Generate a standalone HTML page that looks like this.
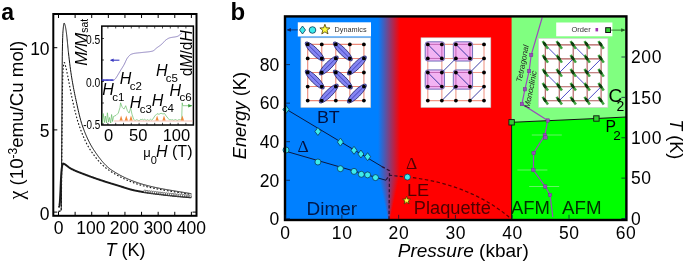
<!DOCTYPE html>
<html><head><meta charset="utf-8"><style>
html,body{margin:0;padding:0;background:#fff;}
svg{display:block;font-family:"Liberation Sans", sans-serif;will-change:transform;}
</style></head><body>
<svg width="685" height="263" viewBox="0 0 685 263">
<rect width="685" height="263" fill="#fff"/>
<defs><clipPath id="ca"><rect x="54.3" y="15" width="141.2" height="199.8"/></clipPath></defs>
<g clip-path="url(#ca)" fill="none">
<path d="M58.5,211.28 L58.58,211.28 L58.67,211.28 L58.75,211.27 L58.83,211.27 L58.92,211.27 L59,211.26 L59.09,211.26 L59.17,211.25 L59.25,211.24 L59.34,211.23 L59.42,211.22 L59.5,211.21 L59.59,211.19 L59.67,211.17 L59.76,211.16 L59.84,211.13 L59.92,211.11 L60.01,211.09 L60.09,211.06 L60.17,211.03 L60.26,211 L60.34,210.96 L60.43,210.92 L60.51,210.88 L60.59,210.84 L60.68,210.79 L60.76,210.74 L60.84,210.69 L60.93,210.63 L61.01,210.57 L61.1,210.51 L61.18,210.29 L61.26,207.21 L61.35,201.08 L61.43,192.92 L61.51,183.78 L61.6,173.93 L61.68,160.39 L61.77,144.54 L61.85,128.52 L61.93,113.52 L62.02,96.88 L62.1,80.24 L62.18,65.92 L62.27,56.22 L62.35,51.2 L62.44,46.93 L62.52,43.22 L62.6,40.03 L62.69,37.34 L62.77,35.11 L62.85,33.3 L62.94,31.88 L63.02,30.8 L63.11,29.8 L63.19,28.86 L63.27,27.97 L63.36,27.14 L63.44,26.37 L63.52,25.67 L63.61,25.04 L63.69,24.49 L63.78,24.02 L63.86,23.64 L63.94,23.34 L64.03,23.15 L64.11,23.05 L64.19,23.05 L64.28,23.11 L64.36,23.21 L64.45,23.36 L64.53,23.54 L64.61,23.76 L64.7,24 L64.78,24.27 L64.86,24.54 L64.95,24.83 L65.03,25.12 L65.12,25.41 L65.2,25.7 L65.28,26.03 L65.37,26.39 L65.45,26.77 L65.53,27.19 L65.62,27.63 L65.7,28.1 L65.79,28.59 L65.87,29.09 L65.95,29.61 L66.04,30.15 L66.12,30.69 L66.2,31.25 L66.29,31.82 L66.37,32.43 L66.46,33.07 L66.54,33.75 L66.62,34.45 L66.71,35.18 L66.79,35.93 L66.87,36.71 L66.96,37.51 L67.04,38.32 L67.13,39.16 L67.21,40 L67.29,40.86 L67.38,41.72 L67.46,42.6 L67.54,43.47 L67.63,44.36 L67.71,45.24 L67.8,46.12 L67.88,47 L67.96,47.87 L68.05,48.73 L68.13,49.58 L68.21,50.42 L68.3,51.25 L68.38,52.06 L68.47,52.85 L68.88,56.45 L69.29,59.91 L69.7,63.29 L70.11,66.55 L70.52,69.67 L70.93,72.61 L71.34,75.34 L71.75,77.91 L72.17,80.39 L72.58,82.78 L72.99,85.08 L73.4,87.31 L73.81,89.47 L74.22,91.57 L74.63,93.61 L75.04,95.61 L75.45,97.56 L75.87,99.49 L76.28,101.39 L76.69,103.29 L77.1,105.18 L77.51,107.04 L77.92,108.89 L78.33,110.71 L78.74,112.49 L79.15,114.23 L79.57,115.91 L79.98,117.55 L80.39,119.12 L80.8,120.63 L81.21,122.06 L81.62,123.41 L82.03,124.68 L82.44,125.87 L82.85,127.03 L83.27,128.16 L83.68,129.27 L84.09,130.35 L84.5,131.41 L84.91,132.45 L85.32,133.46 L85.73,134.46 L86.14,135.42 L86.55,136.37 L86.96,137.3 L87.38,138.2 L87.79,139.09 L88.2,139.95 L88.61,140.8 L89.02,141.62 L89.43,142.43 L89.84,143.22 L90.25,143.99 L90.66,144.74 L91.08,145.48 L91.49,146.19 L91.9,146.9 L92.31,147.58 L92.72,148.25 L93.13,148.9 L93.54,149.54 L93.95,150.17 L94.36,150.79 L94.78,151.4 L95.19,152 L95.6,152.6 L96.01,153.2 L96.42,153.79 L96.83,154.37 L97.24,154.94 L97.65,155.51 L98.06,156.07 L98.48,156.63 L98.89,157.18 L99.3,157.72 L99.71,158.25 L100.12,158.78 L100.53,159.3 L100.94,159.81 L101.35,160.31 L101.76,160.81 L102.17,161.3 L102.59,161.78 L103,162.25 L103.41,162.72 L103.82,163.17 L104.23,163.62 L104.64,164.06 L105.05,164.49 L105.46,164.91 L105.87,165.33 L106.29,165.73 L106.7,166.12 L107.11,166.51 L107.52,166.89 L107.93,167.25 L108.34,167.61 L108.75,167.96 L109.16,168.3 L109.57,168.62 L109.99,168.94 L110.4,169.25 L110.81,169.55 L111.22,169.83 L111.63,170.11 L112.04,170.38 L112.45,170.65 L112.86,170.92 L113.27,171.18 L113.69,171.44 L114.1,171.7 L114.51,171.96 L114.92,172.21 L115.33,172.46 L115.74,172.71 L116.15,172.96 L116.56,173.2 L116.97,173.44 L117.38,173.68 L117.8,173.92 L118.21,174.15 L118.62,174.38 L119.03,174.61 L119.44,174.83 L119.85,175.06 L120.26,175.28 L120.67,175.5 L121.08,175.71 L121.5,175.93 L121.91,176.14 L122.32,176.35 L122.73,176.56 L123.14,176.76 L123.55,176.96 L123.96,177.17 L124.37,177.36 L124.78,177.56 L125.2,177.75 L125.61,177.95 L126.02,178.14 L126.43,178.32 L126.84,178.51 L127.25,178.69 L127.66,178.87 L128.07,179.05 L128.48,179.23 L128.9,179.41 L129.31,179.58 L129.72,179.75 L130.13,179.92 L130.54,180.09 L130.95,180.25 L131.36,180.42 L131.77,180.58 L132.18,180.74 L132.6,180.9 L133.01,181.06 L133.42,181.21 L133.83,181.36 L134.24,181.51 L134.65,181.66 L135.06,181.81 L135.47,181.96 L135.88,182.1 L136.29,182.25 L136.71,182.39 L137.12,182.53 L137.53,182.66 L137.94,182.8 L138.35,182.94 L138.76,183.07 L139.17,183.2 L139.58,183.33 L139.99,183.46 L140.41,183.59 L140.82,183.71 L141.23,183.84 L141.64,183.96 L142.05,184.08 L142.46,184.2 L142.87,184.32 L143.28,184.44 L143.69,184.56 L144.11,184.67 L144.52,184.79 L144.93,184.9 L145.34,185.01 L145.75,185.12 L146.16,185.23 L146.57,185.34 L146.98,185.45 L147.39,185.55 L147.81,185.66 L148.22,185.76 L148.63,185.86 L149.04,185.97 L149.45,186.07 L149.86,186.17 L150.27,186.27 L150.68,186.36 L151.09,186.46 L151.5,186.56 L151.92,186.65 L152.33,186.75 L152.74,186.84 L153.15,186.94 L153.56,187.03 L153.97,187.12 L154.38,187.21 L154.79,187.3 L155.2,187.39 L155.62,187.48 L156.03,187.56 L156.44,187.65 L156.85,187.74 L157.26,187.82 L157.67,187.91 L158.08,187.99 L158.49,188.07 L158.9,188.16 L159.32,188.24 L159.73,188.32 L160.14,188.4 L160.55,188.48 L160.96,188.56 L161.37,188.64 L161.78,188.72 L162.19,188.79 L162.6,188.87 L163.02,188.95 L163.43,189.02 L163.84,189.1 L164.25,189.17 L164.66,189.25 L165.07,189.32 L165.48,189.4 L165.89,189.47 L166.3,189.54 L166.71,189.61 L167.13,189.69 L167.54,189.76 L167.95,189.83 L168.36,189.9 L168.77,189.97 L169.18,190.04 L169.59,190.11 L170,190.18 L170.41,190.25 L170.83,190.32 L171.24,190.39 L171.65,190.45 L172.06,190.52 L172.47,190.59 L172.88,190.66 L173.29,190.73 L173.7,190.79 L174.11,190.86 L174.53,190.93 L174.94,190.99 L175.35,191.06 L175.76,191.13 L176.17,191.19 L176.58,191.26 L176.99,191.33 L177.4,191.39 L177.81,191.46 L178.23,191.53 L178.64,191.59 L179.05,191.66 L179.46,191.72 L179.87,191.79 L180.28,191.86 L180.69,191.92 L181.1,191.99 L181.51,192.05 L181.93,192.12 L182.34,192.19 L182.75,192.25 L183.16,192.32 L183.57,192.39 L183.98,192.45 L184.39,192.52 L184.8,192.59 L185.21,192.66 L185.62,192.72 L186.04,192.79 L186.45,192.86 L186.86,192.93 L187.27,192.99 L187.68,193.06 L188.09,193.13 L188.5,193.2 L188.91,193.27 L189.32,193.34 L189.74,193.41 L190.15,193.48 L190.56,193.55 L190.97,193.62 L191.38,193.69" stroke="#111" stroke-width="1"/>
<path d="M58.5,211.28 L58.58,211.28 L58.67,211.28 L58.75,211.27 L58.83,211.27 L58.92,211.27 L59,211.26 L59.09,211.26 L59.17,211.25 L59.25,211.24 L59.34,211.23 L59.42,211.22 L59.5,211.21 L59.59,211.19 L59.67,211.17 L59.76,211.16 L59.84,211.13 L59.92,211.11 L60.01,211.09 L60.09,211.06 L60.17,211.03 L60.26,210.99 L60.34,210.96 L60.43,210.92 L60.51,210.88 L60.59,210.84 L60.68,210.79 L60.76,210.74 L60.84,210.69 L60.93,210.63 L61.01,210.57 L61.1,210.5 L61.18,210.32 L61.26,207.97 L61.35,203.34 L61.43,197.29 L61.51,190.66 L61.6,183.87 L61.68,175.21 L61.77,165.15 L61.85,154.53 L61.93,144.23 L62.02,134.94 L62.1,125.33 L62.18,115.48 L62.27,106.1 L62.35,97.86 L62.44,91.46 L62.52,87.38 L62.6,84.05 L62.69,81 L62.77,78.25 L62.85,75.78 L62.94,73.61 L63.02,71.73 L63.11,70.14 L63.19,68.84 L63.27,67.83 L63.36,67.09 L63.44,66.41 L63.52,65.77 L63.61,65.17 L63.69,64.62 L63.78,64.12 L63.86,63.68 L63.94,63.3 L64.03,62.99 L64.11,62.75 L64.19,62.58 L64.28,62.5 L64.36,62.51 L64.45,62.57 L64.53,62.68 L64.61,62.84 L64.7,63.04 L64.78,63.28 L64.86,63.54 L64.95,63.83 L65.03,64.13 L65.12,64.45 L65.2,64.77 L65.28,65.09 L65.37,65.4 L65.45,65.7 L65.53,65.99 L65.62,66.29 L65.7,66.6 L65.79,66.93 L65.87,67.27 L65.95,67.62 L66.04,67.98 L66.12,68.34 L66.2,68.72 L66.29,69.1 L66.37,69.49 L66.46,69.89 L66.54,70.29 L66.62,70.69 L66.71,71.1 L66.79,71.51 L66.87,71.92 L66.96,72.33 L67.04,72.75 L67.13,73.16 L67.21,73.57 L67.29,73.98 L67.38,74.39 L67.46,74.79 L67.54,75.19 L67.63,75.59 L67.71,76 L67.8,76.41 L67.88,76.82 L67.96,77.24 L68.05,77.66 L68.13,78.08 L68.21,78.5 L68.3,78.93 L68.38,79.36 L68.47,79.79 L68.88,81.94 L69.29,84.11 L69.7,86.31 L70.11,88.5 L70.52,90.68 L70.93,92.82 L71.34,94.91 L71.75,96.93 L72.17,98.86 L72.58,100.69 L72.99,102.48 L73.4,104.27 L73.81,106.03 L74.22,107.77 L74.63,109.49 L75.04,111.17 L75.45,112.82 L75.87,114.44 L76.28,116.01 L76.69,117.55 L77.1,119.03 L77.51,120.46 L77.92,121.83 L78.33,123.14 L78.74,124.39 L79.15,125.58 L79.57,126.74 L79.98,127.88 L80.39,129 L80.8,130.1 L81.21,131.18 L81.62,132.25 L82.03,133.29 L82.44,134.32 L82.85,135.32 L83.27,136.31 L83.68,137.27 L84.09,138.22 L84.5,139.14 L84.91,140.04 L85.32,140.93 L85.73,141.79 L86.14,142.64 L86.55,143.46 L86.96,144.26 L87.38,145.04 L87.79,145.8 L88.2,146.54 L88.61,147.25 L89.02,147.95 L89.43,148.62 L89.84,149.27 L90.25,149.9 L90.66,150.51 L91.08,151.12 L91.49,151.72 L91.9,152.31 L92.31,152.89 L92.72,153.47 L93.13,154.04 L93.54,154.6 L93.95,155.16 L94.36,155.7 L94.78,156.24 L95.19,156.77 L95.6,157.3 L96.01,157.82 L96.42,158.33 L96.83,158.83 L97.24,159.32 L97.65,159.81 L98.06,160.29 L98.48,160.76 L98.89,161.23 L99.3,161.69 L99.71,162.14 L100.12,162.58 L100.53,163.01 L100.94,163.44 L101.35,163.86 L101.76,164.27 L102.17,164.67 L102.59,165.07 L103,165.46 L103.41,165.84 L103.82,166.21 L104.23,166.58 L104.64,166.93 L105.05,167.28 L105.46,167.62 L105.87,167.96 L106.29,168.28 L106.7,168.6 L107.11,168.91 L107.52,169.21 L107.93,169.51 L108.34,169.8 L108.75,170.07 L109.16,170.35 L109.57,170.62 L109.99,170.89 L110.4,171.16 L110.81,171.42 L111.22,171.69 L111.63,171.95 L112.04,172.21 L112.45,172.46 L112.86,172.72 L113.27,172.97 L113.69,173.22 L114.1,173.47 L114.51,173.71 L114.92,173.95 L115.33,174.19 L115.74,174.43 L116.15,174.67 L116.56,174.9 L116.97,175.13 L117.38,175.36 L117.8,175.59 L118.21,175.82 L118.62,176.04 L119.03,176.26 L119.44,176.48 L119.85,176.7 L120.26,176.91 L120.67,177.12 L121.08,177.33 L121.5,177.54 L121.91,177.75 L122.32,177.95 L122.73,178.15 L123.14,178.35 L123.55,178.55 L123.96,178.75 L124.37,178.94 L124.78,179.13 L125.2,179.32 L125.61,179.51 L126.02,179.7 L126.43,179.88 L126.84,180.06 L127.25,180.24 L127.66,180.42 L128.07,180.6 L128.48,180.77 L128.9,180.94 L129.31,181.11 L129.72,181.28 L130.13,181.45 L130.54,181.61 L130.95,181.78 L131.36,181.94 L131.77,182.1 L132.18,182.25 L132.6,182.41 L133.01,182.56 L133.42,182.71 L133.83,182.86 L134.24,183.01 L134.65,183.16 L135.06,183.3 L135.47,183.44 L135.88,183.58 L136.29,183.72 L136.71,183.86 L137.12,183.99 L137.53,184.13 L137.94,184.26 L138.35,184.39 L138.76,184.52 L139.17,184.64 L139.58,184.77 L139.99,184.89 L140.41,185.01 L140.82,185.13 L141.23,185.25 L141.64,185.37 L142.05,185.48 L142.46,185.59 L142.87,185.71 L143.28,185.82 L143.69,185.92 L144.11,186.03 L144.52,186.14 L144.93,186.24 L145.34,186.35 L145.75,186.45 L146.16,186.55 L146.57,186.65 L146.98,186.75 L147.39,186.85 L147.81,186.95 L148.22,187.04 L148.63,187.14 L149.04,187.24 L149.45,187.33 L149.86,187.42 L150.27,187.52 L150.68,187.61 L151.09,187.7 L151.5,187.79 L151.92,187.88 L152.33,187.96 L152.74,188.05 L153.15,188.14 L153.56,188.22 L153.97,188.31 L154.38,188.39 L154.79,188.47 L155.2,188.56 L155.62,188.64 L156.03,188.72 L156.44,188.8 L156.85,188.88 L157.26,188.96 L157.67,189.04 L158.08,189.11 L158.49,189.19 L158.9,189.27 L159.32,189.34 L159.73,189.42 L160.14,189.49 L160.55,189.57 L160.96,189.64 L161.37,189.71 L161.78,189.79 L162.19,189.86 L162.6,189.93 L163.02,190 L163.43,190.07 L163.84,190.14 L164.25,190.21 L164.66,190.28 L165.07,190.35 L165.48,190.42 L165.89,190.48 L166.3,190.55 L166.71,190.62 L167.13,190.69 L167.54,190.75 L167.95,190.82 L168.36,190.88 L168.77,190.95 L169.18,191.02 L169.59,191.08 L170,191.15 L170.41,191.21 L170.83,191.27 L171.24,191.34 L171.65,191.4 L172.06,191.47 L172.47,191.53 L172.88,191.59 L173.29,191.66 L173.7,191.72 L174.11,191.78 L174.53,191.85 L174.94,191.91 L175.35,191.97 L175.76,192.03 L176.17,192.1 L176.58,192.16 L176.99,192.22 L177.4,192.29 L177.81,192.35 L178.23,192.41 L178.64,192.47 L179.05,192.54 L179.46,192.6 L179.87,192.66 L180.28,192.73 L180.69,192.79 L181.1,192.85 L181.51,192.92 L181.93,192.98 L182.34,193.04 L182.75,193.11 L183.16,193.17 L183.57,193.24 L183.98,193.3 L184.39,193.37 L184.8,193.43 L185.21,193.5 L185.62,193.56 L186.04,193.63 L186.45,193.69 L186.86,193.76 L187.27,193.83 L187.68,193.89 L188.09,193.96 L188.5,194.03 L188.91,194.1 L189.32,194.17 L189.74,194.24 L190.15,194.3 L190.56,194.37 L190.97,194.44 L191.38,194.51" stroke="#111" stroke-width="1.1" stroke-dasharray="1.6,1.9"/>
<path d="M58.5,207.17 L58.58,207.15 L58.67,207.12 L58.75,207.05 L58.83,206.96 L58.92,206.85 L59,206.72 L59.09,206.57 L59.17,206.39 L59.25,206.2 L59.34,205.98 L59.42,205.75 L59.5,205.5 L59.59,205.06 L59.67,204.37 L59.76,203.45 L59.84,202.36 L59.92,201.14 L60.01,199.82 L60.09,198.45 L60.17,197.07 L60.26,195.45 L60.34,193.53 L60.43,191.45 L60.51,189.33 L60.59,187.27 L60.68,185.41 L60.76,183.62 L60.84,181.84 L60.93,180.11 L61.01,178.47 L61.1,176.95 L61.18,175.58 L61.26,174.28 L61.35,173.03 L61.43,171.86 L61.51,170.81 L61.6,169.89 L61.68,169.13 L61.77,168.44 L61.85,167.8 L61.93,167.2 L62.02,166.66 L62.1,166.18 L62.18,165.76 L62.27,165.42 L62.35,165.15 L62.44,164.9 L62.52,164.65 L62.6,164.43 L62.69,164.22 L62.77,164.03 L62.85,163.87 L62.94,163.75 L63.02,163.66 L63.11,163.61 L63.19,163.6 L63.27,163.61 L63.36,163.62 L63.44,163.64 L63.52,163.66 L63.61,163.69 L63.69,163.72 L63.78,163.75 L63.86,163.79 L63.94,163.83 L64.03,163.87 L64.11,163.91 L64.19,163.95 L64.28,164 L64.36,164.04 L64.45,164.08 L64.53,164.12 L64.61,164.16 L64.7,164.21 L64.78,164.26 L64.86,164.31 L64.95,164.36 L65.03,164.41 L65.12,164.47 L65.2,164.52 L65.28,164.58 L65.37,164.64 L65.45,164.71 L65.53,164.77 L65.62,164.83 L65.7,164.9 L65.79,164.96 L65.87,165.03 L65.95,165.09 L66.04,165.16 L66.12,165.22 L66.2,165.29 L66.29,165.35 L66.37,165.42 L66.46,165.48 L66.54,165.55 L66.62,165.61 L66.71,165.67 L66.79,165.73 L66.87,165.79 L66.96,165.85 L67.04,165.91 L67.13,165.97 L67.21,166.03 L67.29,166.09 L67.38,166.15 L67.46,166.21 L67.54,166.28 L67.63,166.34 L67.71,166.4 L67.8,166.46 L67.88,166.53 L67.96,166.59 L68.05,166.65 L68.13,166.71 L68.21,166.78 L68.3,166.84 L68.38,166.9 L68.47,166.97 L68.88,167.27 L69.29,167.57 L69.7,167.85 L70.11,168.13 L70.52,168.38 L70.93,168.61 L71.34,168.83 L71.75,169.05 L72.17,169.27 L72.58,169.47 L72.99,169.68 L73.4,169.88 L73.81,170.08 L74.22,170.27 L74.63,170.46 L75.04,170.64 L75.45,170.82 L75.87,171 L76.28,171.18 L76.69,171.35 L77.1,171.52 L77.51,171.69 L77.92,171.85 L78.33,172.02 L78.74,172.18 L79.15,172.34 L79.57,172.5 L79.98,172.66 L80.39,172.81 L80.8,172.97 L81.21,173.12 L81.62,173.28 L82.03,173.43 L82.44,173.59 L82.85,173.74 L83.27,173.89 L83.68,174.05 L84.09,174.2 L84.5,174.36 L84.91,174.51 L85.32,174.67 L85.73,174.83 L86.14,174.99 L86.55,175.14 L86.96,175.3 L87.38,175.46 L87.79,175.61 L88.2,175.77 L88.61,175.92 L89.02,176.07 L89.43,176.22 L89.84,176.37 L90.25,176.53 L90.66,176.68 L91.08,176.82 L91.49,176.97 L91.9,177.12 L92.31,177.27 L92.72,177.41 L93.13,177.56 L93.54,177.71 L93.95,177.85 L94.36,177.99 L94.78,178.14 L95.19,178.28 L95.6,178.42 L96.01,178.57 L96.42,178.71 L96.83,178.85 L97.24,178.99 L97.65,179.13 L98.06,179.27 L98.48,179.41 L98.89,179.55 L99.3,179.69 L99.71,179.82 L100.12,179.96 L100.53,180.1 L100.94,180.24 L101.35,180.37 L101.76,180.51 L102.17,180.65 L102.59,180.78 L103,180.91 L103.41,181.05 L103.82,181.18 L104.23,181.32 L104.64,181.45 L105.05,181.58 L105.46,181.71 L105.87,181.84 L106.29,181.97 L106.7,182.11 L107.11,182.24 L107.52,182.37 L107.93,182.49 L108.34,182.62 L108.75,182.75 L109.16,182.88 L109.57,183.01 L109.99,183.14 L110.4,183.26 L110.81,183.39 L111.22,183.52 L111.63,183.64 L112.04,183.77 L112.45,183.9 L112.86,184.02 L113.27,184.15 L113.69,184.27 L114.1,184.4 L114.51,184.52 L114.92,184.65 L115.33,184.77 L115.74,184.9 L116.15,185.02 L116.56,185.15 L116.97,185.27 L117.38,185.39 L117.8,185.52 L118.21,185.64 L118.62,185.77 L119.03,185.89 L119.44,186.02 L119.85,186.15 L120.26,186.28 L120.67,186.41 L121.08,186.54 L121.5,186.67 L121.91,186.8 L122.32,186.93 L122.73,187.06 L123.14,187.19 L123.55,187.32 L123.96,187.45 L124.37,187.58 L124.78,187.71 L125.2,187.84 L125.61,187.97 L126.02,188.1 L126.43,188.23 L126.84,188.36 L127.25,188.48 L127.66,188.61 L128.07,188.73 L128.48,188.85 L128.9,188.97 L129.31,189.09 L129.72,189.21 L130.13,189.33 L130.54,189.44 L130.95,189.55 L131.36,189.66 L131.77,189.77 L132.18,189.88 L132.6,189.98 L133.01,190.08 L133.42,190.18 L133.83,190.28 L134.24,190.38 L134.65,190.47 L135.06,190.56 L135.47,190.64 L135.88,190.72 L136.29,190.8 L136.71,190.88 L137.12,190.96 L137.53,191.04 L137.94,191.12 L138.35,191.19 L138.76,191.27 L139.17,191.34 L139.58,191.41 L139.99,191.48 L140.41,191.56 L140.82,191.63 L141.23,191.69 L141.64,191.76 L142.05,191.83 L142.46,191.9 L142.87,191.96 L143.28,192.03 L143.69,192.09 L144.11,192.15 L144.52,192.22 L144.93,192.28 L145.34,192.34 L145.75,192.4 L146.16,192.46 L146.57,192.52 L146.98,192.58 L147.39,192.64 L147.81,192.7 L148.22,192.75 L148.63,192.81 L149.04,192.86 L149.45,192.92 L149.86,192.98 L150.27,193.03 L150.68,193.08 L151.09,193.14 L151.5,193.19 L151.92,193.24 L152.33,193.3 L152.74,193.35 L153.15,193.4 L153.56,193.45 L153.97,193.5 L154.38,193.56 L154.79,193.61 L155.2,193.66 L155.62,193.71 L156.03,193.76 L156.44,193.81 L156.85,193.86 L157.26,193.91 L157.67,193.96 L158.08,194.01 L158.49,194.06 L158.9,194.11 L159.32,194.15 L159.73,194.2 L160.14,194.25 L160.55,194.3 L160.96,194.35 L161.37,194.4 L161.78,194.45 L162.19,194.49 L162.6,194.54 L163.02,194.59 L163.43,194.64 L163.84,194.69 L164.25,194.73 L164.66,194.78 L165.07,194.83 L165.48,194.87 L165.89,194.92 L166.3,194.97 L166.71,195.01 L167.13,195.06 L167.54,195.1 L167.95,195.15 L168.36,195.2 L168.77,195.24 L169.18,195.29 L169.59,195.33 L170,195.37 L170.41,195.42 L170.83,195.46 L171.24,195.51 L171.65,195.55 L172.06,195.59 L172.47,195.64 L172.88,195.68 L173.29,195.72 L173.7,195.77 L174.11,195.81 L174.53,195.85 L174.94,195.89 L175.35,195.93 L175.76,195.97 L176.17,196.01 L176.58,196.06 L176.99,196.1 L177.4,196.14 L177.81,196.18 L178.23,196.21 L178.64,196.25 L179.05,196.29 L179.46,196.33 L179.87,196.37 L180.28,196.41 L180.69,196.45 L181.1,196.48 L181.51,196.52 L181.93,196.56 L182.34,196.59 L182.75,196.63 L183.16,196.67 L183.57,196.7 L183.98,196.74 L184.39,196.77 L184.8,196.81 L185.21,196.84 L185.62,196.88 L186.04,196.91 L186.45,196.94 L186.86,196.98 L187.27,197.01 L187.68,197.04 L188.09,197.07 L188.5,197.1 L188.91,197.14 L189.32,197.17 L189.74,197.2 L190.15,197.23 L190.56,197.26 L190.97,197.29 L191.38,197.32" stroke="#2a2a2a" stroke-width="2.0"/>
<circle cx="144.87" cy="191.28" r="1.25" stroke="#333" stroke-width="0.6" fill="#fff"/>
<circle cx="147.03" cy="191.6" r="1.25" stroke="#333" stroke-width="0.6" fill="#fff"/>
<circle cx="149.19" cy="191.9" r="1.25" stroke="#333" stroke-width="0.6" fill="#fff"/>
<circle cx="151.35" cy="192.18" r="1.25" stroke="#333" stroke-width="0.6" fill="#fff"/>
<circle cx="153.51" cy="192.46" r="1.25" stroke="#333" stroke-width="0.6" fill="#fff"/>
<circle cx="155.67" cy="192.73" r="1.25" stroke="#333" stroke-width="0.6" fill="#fff"/>
<circle cx="157.83" cy="192.99" r="1.25" stroke="#333" stroke-width="0.6" fill="#fff"/>
<circle cx="159.99" cy="193.25" r="1.25" stroke="#333" stroke-width="0.6" fill="#fff"/>
<circle cx="162.15" cy="193.5" r="1.25" stroke="#333" stroke-width="0.6" fill="#fff"/>
<circle cx="164.31" cy="193.75" r="1.25" stroke="#333" stroke-width="0.6" fill="#fff"/>
<circle cx="166.47" cy="194" r="1.25" stroke="#333" stroke-width="0.6" fill="#fff"/>
<circle cx="168.62" cy="194.24" r="1.25" stroke="#333" stroke-width="0.6" fill="#fff"/>
<circle cx="170.78" cy="194.47" r="1.25" stroke="#333" stroke-width="0.6" fill="#fff"/>
<circle cx="172.94" cy="194.7" r="1.25" stroke="#333" stroke-width="0.6" fill="#fff"/>
<circle cx="175.1" cy="194.92" r="1.25" stroke="#333" stroke-width="0.6" fill="#fff"/>
<circle cx="177.26" cy="195.14" r="1.25" stroke="#333" stroke-width="0.6" fill="#fff"/>
<circle cx="179.42" cy="195.34" r="1.25" stroke="#333" stroke-width="0.6" fill="#fff"/>
<circle cx="181.58" cy="195.54" r="1.25" stroke="#333" stroke-width="0.6" fill="#fff"/>
<circle cx="183.74" cy="195.73" r="1.25" stroke="#333" stroke-width="0.6" fill="#fff"/>
<circle cx="185.9" cy="195.91" r="1.25" stroke="#333" stroke-width="0.6" fill="#fff"/>
<circle cx="188.06" cy="196.08" r="1.25" stroke="#333" stroke-width="0.6" fill="#fff"/>
<circle cx="190.22" cy="196.25" r="1.25" stroke="#333" stroke-width="0.6" fill="#fff"/>
<path d="M58.5,207.17 L58.58,207.15 L58.67,207.12 L58.75,207.05 L58.83,206.96 L58.92,206.85 L59,206.72 L59.09,206.57 L59.17,206.39 L59.25,206.2 L59.34,205.98 L59.42,205.75 L59.5,205.5 L59.59,205.06 L59.67,204.37 L59.76,203.45 L59.84,202.36 L59.92,201.14 L60.01,199.82 L60.09,198.45 L60.17,197.07 L60.26,195.45 L60.34,193.53 L60.43,191.45 L60.51,189.33 L60.59,187.27 L60.68,185.41 L60.76,183.62 L60.84,181.84 L60.93,180.11 L61.01,178.47 L61.1,176.95 L61.18,175.58 L61.26,174.28 L61.35,173.03 L61.43,171.86 L61.51,170.81 L61.6,169.89 L61.68,169.13 L61.77,168.44 L61.85,167.8 L61.93,167.2 L62.02,166.66 L62.1,166.18 L62.18,165.76 L62.27,165.42 L62.35,165.15 L62.44,164.9 L62.52,164.65 L62.6,164.43 L62.69,164.22 L62.77,164.03 L62.85,163.87 L62.94,163.75 L63.02,163.66 L63.11,163.61 L63.19,163.6 L63.27,163.61 L63.36,163.62 L63.44,163.64 L63.52,163.66 L63.61,163.69 L63.69,163.72 L63.78,163.75 L63.86,163.79 L63.94,163.83 L64.03,163.87 L64.11,163.91 L64.19,163.95 L64.28,164 L64.36,164.04 L64.45,164.08 L64.53,164.12 L64.61,164.16 L64.7,164.21 L64.78,164.26 L64.86,164.31 L64.95,164.36 L65.03,164.41 L65.12,164.47 L65.2,164.52 L65.28,164.58 L65.37,164.64 L65.45,164.71 L65.53,164.77 L65.62,164.83 L65.7,164.9 L65.79,164.96 L65.87,165.03 L65.95,165.09 L66.04,165.16 L66.12,165.22 L66.2,165.29 L66.29,165.35 L66.37,165.42 L66.46,165.48 L66.54,165.55 L66.62,165.61 L66.71,165.67 L66.79,165.73 L66.87,165.79 L66.96,165.85 L67.04,165.91 L67.13,165.97 L67.21,166.03 L67.29,166.09 L67.38,166.15 L67.46,166.21 L67.54,166.28 L67.63,166.34 L67.71,166.4 L67.8,166.46 L67.88,166.53 L67.96,166.59 L68.05,166.65 L68.13,166.71 L68.21,166.78 L68.3,166.84 L68.38,166.9 L68.47,166.97 L68.88,167.27 L69.29,167.57 L69.7,167.85 L70.11,168.13 L70.52,168.38 L70.93,168.61 L71.34,168.83 L71.75,169.05 L72.17,169.27 L72.58,169.47 L72.99,169.68 L73.4,169.88 L73.81,170.08 L74.22,170.27 L74.63,170.46 L75.04,170.64 L75.45,170.82 L75.87,171 L76.28,171.18 L76.69,171.35 L77.1,171.52 L77.51,171.69 L77.92,171.85 L78.33,172.02 L78.74,172.18 L79.15,172.34 L79.57,172.5 L79.98,172.66 L80.39,172.81 L80.8,172.97 L81.21,173.12 L81.62,173.28 L82.03,173.43 L82.44,173.59 L82.85,173.74 L83.27,173.89 L83.68,174.05 L84.09,174.2 L84.5,174.36 L84.91,174.51 L85.32,174.67 L85.73,174.83 L86.14,174.99 L86.55,175.14 L86.96,175.3 L87.38,175.46 L87.79,175.61 L88.2,175.77 L88.61,175.92 L89.02,176.07 L89.43,176.22 L89.84,176.37 L90.25,176.53 L90.66,176.68 L91.08,176.82 L91.49,176.97 L91.9,177.12 L92.31,177.27 L92.72,177.41 L93.13,177.56 L93.54,177.71 L93.95,177.85 L94.36,177.99 L94.78,178.14 L95.19,178.28 L95.6,178.42 L96.01,178.57 L96.42,178.71 L96.83,178.85 L97.24,178.99 L97.65,179.13 L98.06,179.27 L98.48,179.41 L98.89,179.55 L99.3,179.69 L99.71,179.82 L100.12,179.96 L100.53,180.1 L100.94,180.24 L101.35,180.37 L101.76,180.51 L102.17,180.65 L102.59,180.78 L103,180.91 L103.41,181.05 L103.82,181.18 L104.23,181.32 L104.64,181.45 L105.05,181.58 L105.46,181.71 L105.87,181.84 L106.29,181.97 L106.7,182.11 L107.11,182.24 L107.52,182.37 L107.93,182.49 L108.34,182.62 L108.75,182.75 L109.16,182.88 L109.57,183.01 L109.99,183.14 L110.4,183.26 L110.81,183.39 L111.22,183.52 L111.63,183.64 L112.04,183.77 L112.45,183.9 L112.86,184.02 L113.27,184.15 L113.69,184.27 L114.1,184.4 L114.51,184.52 L114.92,184.65 L115.33,184.77 L115.74,184.9 L116.15,185.02 L116.56,185.15 L116.97,185.27 L117.38,185.39 L117.8,185.52 L118.21,185.64 L118.62,185.77 L119.03,185.89 L119.44,186.02 L119.85,186.15 L120.26,186.28 L120.67,186.41 L121.08,186.54 L121.5,186.67 L121.91,186.8 L122.32,186.93 L122.73,187.06 L123.14,187.19 L123.55,187.32 L123.96,187.45 L124.37,187.58 L124.78,187.71 L125.2,187.84 L125.61,187.97 L126.02,188.1 L126.43,188.23 L126.84,188.36 L127.25,188.48 L127.66,188.61 L128.07,188.73 L128.48,188.85 L128.9,188.97 L129.31,189.09 L129.72,189.21 L130.13,189.33 L130.54,189.44 L130.95,189.55 L131.36,189.66 L131.77,189.77 L132.18,189.88 L132.6,189.98 L133.01,190.08 L133.42,190.18 L133.83,190.28 L134.24,190.38 L134.65,190.47 L135.06,190.56 L135.47,190.64 L135.88,190.72 L136.29,190.8 L136.71,190.88 L137.12,190.96 L137.53,191.04 L137.94,191.12 L138.35,191.19 L138.76,191.27 L139.17,191.34 L139.58,191.41 L139.99,191.48 L140.41,191.56 L140.82,191.63 L141.23,191.69 L141.64,191.76 L142.05,191.83 L142.46,191.9 L142.87,191.96 L143.28,192.03 L143.69,192.09 L144.11,192.15 L144.52,192.22 L144.93,192.28 L145.34,192.34 L145.75,192.4 L146.16,192.46 L146.57,192.52 L146.98,192.58 L147.39,192.64 L147.81,192.7 L148.22,192.75 L148.63,192.81 L149.04,192.86 L149.45,192.92 L149.86,192.98 L150.27,193.03 L150.68,193.08 L151.09,193.14 L151.5,193.19 L151.92,193.24 L152.33,193.3 L152.74,193.35 L153.15,193.4 L153.56,193.45 L153.97,193.5 L154.38,193.56 L154.79,193.61 L155.2,193.66 L155.62,193.71 L156.03,193.76 L156.44,193.81 L156.85,193.86 L157.26,193.91 L157.67,193.96 L158.08,194.01 L158.49,194.06 L158.9,194.11 L159.32,194.15 L159.73,194.2 L160.14,194.25 L160.55,194.3 L160.96,194.35 L161.37,194.4 L161.78,194.45 L162.19,194.49 L162.6,194.54 L163.02,194.59 L163.43,194.64 L163.84,194.69 L164.25,194.73 L164.66,194.78 L165.07,194.83 L165.48,194.87 L165.89,194.92 L166.3,194.97 L166.71,195.01 L167.13,195.06 L167.54,195.1 L167.95,195.15 L168.36,195.2 L168.77,195.24 L169.18,195.29 L169.59,195.33 L170,195.37 L170.41,195.42 L170.83,195.46 L171.24,195.51 L171.65,195.55 L172.06,195.59 L172.47,195.64 L172.88,195.68 L173.29,195.72 L173.7,195.77 L174.11,195.81 L174.53,195.85 L174.94,195.89 L175.35,195.93 L175.76,195.97 L176.17,196.01 L176.58,196.06 L176.99,196.1 L177.4,196.14 L177.81,196.18 L178.23,196.21 L178.64,196.25 L179.05,196.29 L179.46,196.33 L179.87,196.37 L180.28,196.41 L180.69,196.45 L181.1,196.48 L181.51,196.52 L181.93,196.56 L182.34,196.59 L182.75,196.63 L183.16,196.67 L183.57,196.7 L183.98,196.74 L184.39,196.77 L184.8,196.81 L185.21,196.84 L185.62,196.88 L186.04,196.91 L186.45,196.94 L186.86,196.98 L187.27,197.01 L187.68,197.04 L188.09,197.07 L188.5,197.1 L188.91,197.14 L189.32,197.17 L189.74,197.2 L190.15,197.23 L190.56,197.26 L190.97,197.29 L191.38,197.32" stroke="#000" stroke-width="0.5"/>
</g>
<rect x="53.3" y="14" width="143.2" height="201.8" fill="none" stroke="#000" stroke-width="2"/>
<path d="M58.5,215.8V211.8M58.5,14V18M75.11,215.8V211.8M75.11,14V18M91.72,215.8V211.8M91.72,14V18M108.33,215.8V211.8M108.33,14V18M124.94,215.8V211.8M124.94,14V18M141.55,215.8V211.8M141.55,14V18M158.16,215.8V211.8M158.16,14V18M174.77,215.8V211.8M174.77,14V18M191.38,215.8V211.8M191.38,14V18M53.3,212.1H57.3M196.5,212.1H192.5M53.3,129.9H57.3M53.3,47.7H57.3" stroke="#000" stroke-width="1" fill="none"/>
<text x="49.6" y="219.9" font-size="17.5" text-anchor="end">0</text>
<text x="49.6" y="137.1" font-size="17.5" text-anchor="end">5</text>
<text x="49.6" y="54.6" font-size="17.5" text-anchor="end">10</text>
<text x="58.6" y="234.2" font-size="17.5" text-anchor="middle">0</text>
<text x="90.9" y="234.2" font-size="17.5" text-anchor="middle">100</text>
<text x="124.3" y="234.2" font-size="17.5" text-anchor="middle">200</text>
<text x="158" y="234.2" font-size="17.5" text-anchor="middle">300</text>
<text x="191.4" y="234.2" font-size="17.5" text-anchor="middle">400</text>
<text x="105.4" y="255.6" font-size="18"><tspan font-style="italic">T</tspan> (K)</text>
<text transform="translate(23,120.2) rotate(-90)" font-size="18.7" text-anchor="middle"><tspan font-family="Liberation Serif" font-size="20">χ</tspan> (10<tspan font-size="12" dy="-6.5">-3</tspan><tspan dy="6.5">emu/Cu mol)</tspan></text>
<text x="1.3" y="19.8" font-size="23" font-weight="bold">a</text>
<rect x="101.8" y="26.1" width="91.6" height="98.9" fill="#fff" stroke="#000" stroke-width="1.5"/>
<path d="M101.8,80.1 L102.2,80.1 L102.61,80.1 L103.01,80.1 L103.42,80.1 L103.82,80.1 L104.22,80.1 L104.63,80.1 L105.03,80.1 L105.44,80.1 L105.84,80.1 L106.24,80.1 L106.65,80.1 L107.05,80.1 L107.46,80.1 L107.86,80.1 L108.26,80.1 L108.67,80.1 L109.07,80.1 L109.48,80.1 L109.88,80.1 L110.28,80.1 L110.69,80.1 L111.09,80.1 L111.5,80.1 L111.9,80.1 L112.3,80.1 L112.71,80.1 L113.11,80.1 L113.52,80.1 L113.92,80.06 L114.32,79.84 L114.73,79.46 L115.13,79.01 L115.54,78.56 L115.94,78.04 L116.34,77.43 L116.75,76.77 L117.15,76.12 L117.56,75.47 L117.96,74.8 L118.36,74.12 L118.77,73.44 L119.17,72.75 L119.58,72.05 L119.98,71.37 L120.38,70.69 L120.79,70.03 L121.19,69.38 L121.6,68.74 L122,68.11 L122.41,67.47 L122.81,66.82 L123.21,66.16 L123.62,65.47 L124.02,64.76 L124.43,63.99 L124.83,63.14 L125.23,62.25 L125.64,61.35 L126.04,60.47 L126.45,59.63 L126.85,58.87 L127.25,58.21 L127.66,57.65 L128.06,57.12 L128.47,56.61 L128.87,56.14 L129.27,55.7 L129.68,55.3 L130.08,54.96 L130.49,54.68 L130.89,54.46 L131.29,54.27 L131.7,54.1 L132.1,53.95 L132.51,53.82 L132.91,53.7 L133.31,53.59 L133.72,53.5 L134.12,53.41 L134.53,53.34 L134.93,53.28 L135.33,53.22 L135.74,53.16 L136.14,53.11 L136.55,53.06 L136.95,53.01 L137.35,52.97 L137.76,52.93 L138.16,52.89 L138.57,52.85 L138.97,52.81 L139.37,52.77 L139.78,52.74 L140.18,52.7 L140.59,52.66 L140.99,52.62 L141.39,52.57 L141.8,52.52 L142.2,52.48 L142.61,52.43 L143.01,52.38 L143.41,52.34 L143.82,52.3 L144.22,52.26 L144.63,52.22 L145.03,52.18 L145.43,52.15 L145.84,52.11 L146.24,52.07 L146.65,52.03 L147.05,51.99 L147.45,51.94 L147.86,51.9 L148.26,51.85 L148.67,51.8 L149.07,51.75 L149.47,51.69 L149.88,51.63 L150.28,51.56 L150.69,51.49 L151.09,51.41 L151.49,51.33 L151.9,51.24 L152.3,51.15 L152.71,51.04 L153.11,50.87 L153.51,50.64 L153.92,50.36 L154.32,50.05 L154.73,49.7 L155.13,49.34 L155.53,48.96 L155.94,48.59 L156.34,48.23 L156.75,47.9 L157.15,47.59 L157.55,47.29 L157.96,47 L158.36,46.72 L158.77,46.43 L159.17,46.15 L159.57,45.86 L159.98,45.57 L160.38,45.27 L160.79,44.96 L161.19,44.64 L161.59,44.3 L162,43.94 L162.4,43.54 L162.81,43.12 L163.21,42.67 L163.62,42.22 L164.02,41.77 L164.42,41.33 L164.83,40.9 L165.23,40.5 L165.64,40.14 L166.04,39.81 L166.44,39.54 L166.85,39.27 L167.25,39.02 L167.66,38.78 L168.06,38.56 L168.46,38.35 L168.87,38.17 L169.27,38.01 L169.68,37.88 L170.08,37.76 L170.48,37.66 L170.89,37.57 L171.29,37.49 L171.7,37.41 L172.1,37.35 L172.5,37.29 L172.91,37.23 L173.31,37.17 L173.72,37.12 L174.12,37.06 L174.52,37 L174.93,36.94 L175.33,36.87 L175.74,36.79 L176.14,36.71 L176.54,36.61 L176.95,36.5 L177.35,36.38 L177.76,36.24 L178.16,36.04 L178.56,35.78 L178.97,35.47 L179.37,35.14 L179.78,34.8 L180.18,34.46 L180.58,34.13 L180.99,33.81 L181.39,33.48 L181.8,33.14 L182.2,32.8" stroke="#7466b0" stroke-width="0.8" fill="none"/>
<circle cx="102.4" cy="80.1" r="0.85" fill="#3838c8"/>
<circle cx="103.7" cy="80.1" r="0.85" fill="#3838c8"/>
<circle cx="105" cy="80.1" r="0.85" fill="#3838c8"/>
<circle cx="106.3" cy="80.1" r="0.85" fill="#3838c8"/>
<circle cx="107.6" cy="80.1" r="0.85" fill="#3838c8"/>
<circle cx="108.9" cy="80.1" r="0.85" fill="#3838c8"/>
<circle cx="110.2" cy="80.1" r="0.85" fill="#3838c8"/>
<circle cx="111.5" cy="80.1" r="0.85" fill="#3838c8"/>
<circle cx="112.8" cy="80.1" r="0.85" fill="#3838c8"/>
<path d="M110.6,60.2H119.4" stroke="#3838c0" stroke-width="1.1"/><path d="M110.2,60.2l3.4,-1.8v3.6z" fill="#3838c0"/>
<path d="M102.3,123.5 L103.2,113.5 L104.4,122.5 L105.3,116 L106.5,123 L107.4,112.8 L108.6,122 L109.5,117.5 L110.7,123 L111.6,114.5 L112.6,121.5 L113.5,116.5 L116,115.4 L118.3,113.1 L120,107.4 L120.6,102.8 L122.3,107.4 L124,109.1 L125.7,105.7 L127.4,110.8 L129.1,113.1 L130.6,108 L132,114.3 L133.7,119.4 L134.5,120.08 L135.5,120.33 L136.5,119.67 L137.5,120.02 L138.5,120.63 L139.5,120.63 L140.5,119.4 L141.5,119.53 L142.5,119.28 L143.5,119.91 L144.5,119.25 L145.5,119.93 L146.5,120.24 L147.5,119.65 L148.5,120.28 L149.5,120.15 L150.5,119.24 L151.5,120.09 L152.5,119.5 L154.8,116 L157,113.7 L159,114.3 L161,113.2 L163,114 L164.5,113.5 L166.2,116 L168.5,118.8 L169.6,120 L170.5,119.66 L171.5,119.88 L172.5,119.7 L173.5,120.27 L174.5,119.92 L175.5,119.52 L176.5,120.06 L177.5,120.39 L178.5,119.73 L179.5,119.61 L180.5,119.84 L181.7,119.5 L182.2,102.8 L182.8,105.7 L192,105.7" stroke="#5cb85c" stroke-width="0.65" fill="none"/>
<path d="M188.2,103.9L192.3,105.7L188.2,107.5z" fill="#3a9a3a"/>
<path d="M114,121H192.6" stroke="#f4b8a8" stroke-width="0.9"/>
<path d="M119.5,120.6L121.1,115.6L122.7,120.6z" fill="#f0883a"/>
<path d="M124.7,120.6L126.3,115.6L127.9,120.6z" fill="#f0883a"/>
<path d="M129.4,120.6L131,115.6L132.6,120.6z" fill="#f0883a"/>
<path d="M155.5,120.6L157.1,115.6L158.7,120.6z" fill="#f0883a"/>
<path d="M162.4,120.6L164,115.6L165.6,120.6z" fill="#f0883a"/>
<path d="M180.8,120.6L182.4,115.6L184,120.6z" fill="#f0883a"/>
<path d="M107.9,125V122.8M107.9,26.3V28.5M115.7,125V122.8M115.7,26.3V28.5M123.5,125V122.8M123.5,26.3V28.5M131.3,125V122.8M131.3,26.3V28.5M139.1,125V122.8M139.1,26.3V28.5M146.9,125V122.8M146.9,26.3V28.5M154.7,125V122.8M154.7,26.3V28.5M162.5,125V122.8M162.5,26.3V28.5M170.3,125V122.8M170.3,26.3V28.5M178.1,125V122.8M178.1,26.3V28.5M185.9,125V122.8M185.9,26.3V28.5M101.8,38.5H104M101.8,60H104M101.8,81.5H104M101.8,103H104M101.8,124H104" stroke="#000" stroke-width="0.7"/>
<text x="100.3" y="43.5" font-size="13.4" text-anchor="end" textLength="14.3" lengthAdjust="spacingAndGlyphs">0.5</text>
<text x="100.3" y="86.7" font-size="13.4" text-anchor="end" textLength="14.3" lengthAdjust="spacingAndGlyphs">0.0</text>
<text x="100.3" y="128.6" font-size="13.4" text-anchor="end" textLength="17.0" lengthAdjust="spacingAndGlyphs">-0.5</text>
<text x="108.5" y="140.6" font-size="16.5" text-anchor="middle">0</text>
<text x="138.2" y="140.6" font-size="16.5" text-anchor="middle">50</text>
<text x="176.4" y="140.6" font-size="16.5" text-anchor="middle">100</text>
<text x="143.2" y="156.7" font-size="16"><tspan font-size="13">μ</tspan><tspan font-size="11" dy="7.5">0</tspan><tspan dy="-7.5" dx="-0.8" font-style="italic">H</tspan> (T)</text>
<text transform="translate(86.8,65.8) rotate(-90)" font-size="17" font-style="italic">M/M<tspan font-style="normal" font-size="10.5" dy="1.2">sat</tspan></text>
<text transform="translate(191.6,76.3) rotate(-90)" font-size="15.6">d<tspan font-style="italic">M</tspan>/d<tspan font-style="italic">H</tspan></text>
<text x="102.3" y="94.8" font-size="16"><tspan font-style="italic">H</tspan><tspan font-size="11.5" dx="-1.6" dy="5.8">c1</tspan></text>
<text x="119.8" y="84.4" font-size="16"><tspan font-style="italic">H</tspan><tspan font-size="11.5" dx="-1.6" dy="5.8">c2</tspan></text>
<text x="129.8" y="107.6" font-size="16"><tspan font-style="italic">H</tspan><tspan font-size="11.5" dx="-1.6" dy="5.8">c3</tspan></text>
<text x="151.7" y="106" font-size="16"><tspan font-style="italic">H</tspan><tspan font-size="11.5" dx="-1.6" dy="5.8">c4</tspan></text>
<text x="155.9" y="76.3" font-size="16"><tspan font-style="italic">H</tspan><tspan font-size="11.5" dx="-1.6" dy="5.8">c5</tspan></text>
<text x="169.5" y="95.6" font-size="16"><tspan font-style="italic">H</tspan><tspan font-size="11.5" dx="-1.6" dy="5.8">c6</tspan></text>
<rect x="285" y="16" width="104.5" height="204" fill="#0080ff"/>
<rect x="389" y="16" width="123" height="204" fill="#ff0000"/>
<rect x="377.5" y="17" width="23" height="2.05" fill="url(#g0)"/>
<rect x="377.5" y="19" width="23" height="2.05" fill="url(#g1)"/>
<rect x="377.5" y="21" width="23" height="2.05" fill="url(#g2)"/>
<rect x="377.5" y="23" width="23" height="2.05" fill="url(#g3)"/>
<rect x="377.5" y="25" width="23" height="2.05" fill="url(#g4)"/>
<rect x="377.5" y="27" width="23" height="2.05" fill="url(#g5)"/>
<rect x="377.5" y="29" width="23" height="2.05" fill="url(#g6)"/>
<rect x="377.5" y="31" width="23" height="2.05" fill="url(#g7)"/>
<rect x="377.5" y="33" width="23" height="2.05" fill="url(#g8)"/>
<rect x="377.5" y="35" width="23" height="2.05" fill="url(#g9)"/>
<rect x="377.5" y="37" width="23" height="2.05" fill="url(#g10)"/>
<rect x="377.5" y="39" width="23" height="2.05" fill="url(#g11)"/>
<rect x="377.5" y="41" width="23" height="2.05" fill="url(#g12)"/>
<rect x="377.5" y="43" width="23" height="2.05" fill="url(#g13)"/>
<rect x="377.5" y="45" width="23" height="2.05" fill="url(#g14)"/>
<rect x="377.5" y="47" width="23" height="2.05" fill="url(#g15)"/>
<rect x="377.5" y="49" width="23" height="2.05" fill="url(#g16)"/>
<rect x="377.5" y="51" width="23" height="2.05" fill="url(#g17)"/>
<rect x="377.5" y="53" width="23" height="2.05" fill="url(#g18)"/>
<rect x="377.5" y="55" width="23" height="2.05" fill="url(#g19)"/>
<rect x="377.5" y="57" width="23" height="2.05" fill="url(#g20)"/>
<rect x="377.5" y="59" width="23" height="2.05" fill="url(#g21)"/>
<rect x="377.5" y="61" width="23" height="2.05" fill="url(#g22)"/>
<rect x="377.5" y="63" width="23" height="2.05" fill="url(#g23)"/>
<rect x="377.5" y="65" width="23" height="2.05" fill="url(#g24)"/>
<rect x="377.5" y="67" width="23" height="2.05" fill="url(#g25)"/>
<rect x="377.5" y="69" width="23" height="2.05" fill="url(#g26)"/>
<rect x="377.5" y="71" width="23" height="2.05" fill="url(#g27)"/>
<rect x="377.5" y="73" width="23" height="2.05" fill="url(#g28)"/>
<rect x="377.5" y="75" width="23" height="2.05" fill="url(#g29)"/>
<rect x="377.5" y="77" width="23" height="2.05" fill="url(#g30)"/>
<rect x="377.5" y="79" width="23" height="2.05" fill="url(#g31)"/>
<rect x="377.5" y="81" width="23" height="2.05" fill="url(#g32)"/>
<rect x="377.5" y="83" width="23" height="2.05" fill="url(#g33)"/>
<rect x="377.5" y="85" width="23" height="2.05" fill="url(#g34)"/>
<rect x="377.5" y="87" width="23" height="2.05" fill="url(#g35)"/>
<rect x="377.5" y="89" width="23" height="2.05" fill="url(#g36)"/>
<rect x="377.5" y="91" width="23" height="2.05" fill="url(#g37)"/>
<rect x="377.5" y="93" width="23" height="2.05" fill="url(#g38)"/>
<rect x="377.5" y="95" width="23" height="2.05" fill="url(#g39)"/>
<rect x="377.5" y="97" width="23" height="2.05" fill="url(#g40)"/>
<rect x="377.5" y="99" width="23" height="2.05" fill="url(#g41)"/>
<rect x="377.5" y="101" width="23" height="2.05" fill="url(#g42)"/>
<rect x="377.5" y="103" width="23" height="2.05" fill="url(#g43)"/>
<rect x="377.5" y="105" width="23" height="2.05" fill="url(#g44)"/>
<rect x="377.5" y="107" width="23" height="2.05" fill="url(#g45)"/>
<rect x="377.5" y="109" width="23" height="2.05" fill="url(#g46)"/>
<rect x="377.5" y="111" width="23" height="2.05" fill="url(#g47)"/>
<rect x="377.5" y="113" width="23" height="2.05" fill="url(#g48)"/>
<rect x="377.5" y="115" width="23" height="2.05" fill="url(#g49)"/>
<rect x="377.5" y="117" width="23" height="2.05" fill="url(#g50)"/>
<rect x="377.5" y="119" width="23" height="2.05" fill="url(#g51)"/>
<rect x="377.5" y="121" width="23" height="2.05" fill="url(#g52)"/>
<rect x="377.5" y="123" width="23" height="2.05" fill="url(#g53)"/>
<rect x="377.5" y="125" width="23" height="2.05" fill="url(#g54)"/>
<rect x="377.5" y="127" width="23" height="2.05" fill="url(#g55)"/>
<rect x="377.5" y="129" width="23" height="2.05" fill="url(#g56)"/>
<rect x="377.5" y="131" width="23" height="2.05" fill="url(#g57)"/>
<rect x="377.5" y="133" width="23" height="2.05" fill="url(#g58)"/>
<rect x="377.5" y="135" width="23" height="2.05" fill="url(#g59)"/>
<rect x="377.5" y="137" width="23" height="2.05" fill="url(#g60)"/>
<rect x="377.5" y="139" width="23" height="2.05" fill="url(#g61)"/>
<rect x="377.5" y="141" width="23" height="2.05" fill="url(#g62)"/>
<rect x="377.5" y="143" width="23" height="2.05" fill="url(#g63)"/>
<rect x="377.5" y="145" width="23" height="2.05" fill="url(#g64)"/>
<rect x="377.5" y="147" width="23" height="2.05" fill="url(#g65)"/>
<rect x="377.5" y="149" width="23" height="2.05" fill="url(#g66)"/>
<rect x="377.5" y="151" width="23" height="2.05" fill="url(#g67)"/>
<rect x="377.5" y="153" width="23" height="2.05" fill="url(#g68)"/>
<rect x="377.5" y="155" width="23" height="2.05" fill="url(#g69)"/>
<rect x="377.5" y="157" width="23" height="2.05" fill="url(#g70)"/>
<rect x="377.5" y="159" width="23" height="2.05" fill="url(#g71)"/>
<rect x="377.5" y="161" width="23" height="2.05" fill="url(#g72)"/>
<rect x="377.5" y="163" width="23" height="2.05" fill="url(#g73)"/>
<rect x="377.5" y="165" width="23" height="2.05" fill="url(#g74)"/>
<rect x="377.5" y="167" width="23" height="2.05" fill="url(#g75)"/>
<rect x="377.5" y="169" width="23" height="2.05" fill="url(#g76)"/>
<rect x="377.5" y="171" width="23" height="2.05" fill="url(#g77)"/>
<rect x="377.5" y="173" width="23" height="2.05" fill="url(#g78)"/>
<rect x="377.72" y="175" width="22.55" height="2.05" fill="url(#g79)"/>
<rect x="378.17" y="177" width="21.65" height="2.05" fill="url(#g80)"/>
<rect x="378.62" y="179" width="20.75" height="2.05" fill="url(#g81)"/>
<rect x="379.07" y="181" width="19.85" height="2.05" fill="url(#g82)"/>
<rect x="379.52" y="183" width="18.96" height="2.05" fill="url(#g83)"/>
<rect x="379.97" y="185" width="18.06" height="2.05" fill="url(#g84)"/>
<rect x="380.42" y="187" width="17.16" height="2.05" fill="url(#g85)"/>
<rect x="380.87" y="189" width="16.26" height="2.05" fill="url(#g86)"/>
<rect x="381.32" y="191" width="15.36" height="2.05" fill="url(#g87)"/>
<rect x="381.77" y="193" width="14.46" height="2.05" fill="url(#g88)"/>
<rect x="382.22" y="195" width="13.56" height="2.05" fill="url(#g89)"/>
<rect x="382.67" y="197" width="12.66" height="2.05" fill="url(#g90)"/>
<rect x="383.12" y="199" width="11.76" height="2.05" fill="url(#g91)"/>
<rect x="383.57" y="201" width="10.87" height="2.05" fill="url(#g92)"/>
<rect x="384.02" y="203" width="9.97" height="2.05" fill="url(#g93)"/>
<rect x="384.47" y="205" width="9.07" height="2.05" fill="url(#g94)"/>
<rect x="384.92" y="207" width="8.17" height="2.05" fill="url(#g95)"/>
<rect x="385.37" y="209" width="7.27" height="2.05" fill="url(#g96)"/>
<rect x="385.81" y="211" width="6.37" height="2.05" fill="url(#g97)"/>
<rect x="386.26" y="213" width="5.47" height="2.05" fill="url(#g98)"/>
<rect x="386.71" y="215" width="4.57" height="2.05" fill="url(#g99)"/>
<rect x="387.16" y="217" width="3.67" height="2.05" fill="url(#g100)"/>
<rect x="387.44" y="219" width="3.11" height="0.55" fill="url(#g101)"/>
<defs><linearGradient id="g0" gradientUnits="userSpaceOnUse" x1="378" y1="0" x2="400" y2="0"><stop offset="0" stop-color="#0080ff"/><stop offset="1" stop-color="#ff0000"/></linearGradient><linearGradient id="g1" gradientUnits="userSpaceOnUse" x1="378" y1="0" x2="400" y2="0"><stop offset="0" stop-color="#0080ff"/><stop offset="1" stop-color="#ff0000"/></linearGradient><linearGradient id="g2" gradientUnits="userSpaceOnUse" x1="378" y1="0" x2="400" y2="0"><stop offset="0" stop-color="#0080ff"/><stop offset="1" stop-color="#ff0000"/></linearGradient><linearGradient id="g3" gradientUnits="userSpaceOnUse" x1="378" y1="0" x2="400" y2="0"><stop offset="0" stop-color="#0080ff"/><stop offset="1" stop-color="#ff0000"/></linearGradient><linearGradient id="g4" gradientUnits="userSpaceOnUse" x1="378" y1="0" x2="400" y2="0"><stop offset="0" stop-color="#0080ff"/><stop offset="1" stop-color="#ff0000"/></linearGradient><linearGradient id="g5" gradientUnits="userSpaceOnUse" x1="378" y1="0" x2="400" y2="0"><stop offset="0" stop-color="#0080ff"/><stop offset="1" stop-color="#ff0000"/></linearGradient><linearGradient id="g6" gradientUnits="userSpaceOnUse" x1="378" y1="0" x2="400" y2="0"><stop offset="0" stop-color="#0080ff"/><stop offset="1" stop-color="#ff0000"/></linearGradient><linearGradient id="g7" gradientUnits="userSpaceOnUse" x1="378" y1="0" x2="400" y2="0"><stop offset="0" stop-color="#0080ff"/><stop offset="1" stop-color="#ff0000"/></linearGradient><linearGradient id="g8" gradientUnits="userSpaceOnUse" x1="378" y1="0" x2="400" y2="0"><stop offset="0" stop-color="#0080ff"/><stop offset="1" stop-color="#ff0000"/></linearGradient><linearGradient id="g9" gradientUnits="userSpaceOnUse" x1="378" y1="0" x2="400" y2="0"><stop offset="0" stop-color="#0080ff"/><stop offset="1" stop-color="#ff0000"/></linearGradient><linearGradient id="g10" gradientUnits="userSpaceOnUse" x1="378" y1="0" x2="400" y2="0"><stop offset="0" stop-color="#0080ff"/><stop offset="1" stop-color="#ff0000"/></linearGradient><linearGradient id="g11" gradientUnits="userSpaceOnUse" x1="378" y1="0" x2="400" y2="0"><stop offset="0" stop-color="#0080ff"/><stop offset="1" stop-color="#ff0000"/></linearGradient><linearGradient id="g12" gradientUnits="userSpaceOnUse" x1="378" y1="0" x2="400" y2="0"><stop offset="0" stop-color="#0080ff"/><stop offset="1" stop-color="#ff0000"/></linearGradient><linearGradient id="g13" gradientUnits="userSpaceOnUse" x1="378" y1="0" x2="400" y2="0"><stop offset="0" stop-color="#0080ff"/><stop offset="1" stop-color="#ff0000"/></linearGradient><linearGradient id="g14" gradientUnits="userSpaceOnUse" x1="378" y1="0" x2="400" y2="0"><stop offset="0" stop-color="#0080ff"/><stop offset="1" stop-color="#ff0000"/></linearGradient><linearGradient id="g15" gradientUnits="userSpaceOnUse" x1="378" y1="0" x2="400" y2="0"><stop offset="0" stop-color="#0080ff"/><stop offset="1" stop-color="#ff0000"/></linearGradient><linearGradient id="g16" gradientUnits="userSpaceOnUse" x1="378" y1="0" x2="400" y2="0"><stop offset="0" stop-color="#0080ff"/><stop offset="1" stop-color="#ff0000"/></linearGradient><linearGradient id="g17" gradientUnits="userSpaceOnUse" x1="378" y1="0" x2="400" y2="0"><stop offset="0" stop-color="#0080ff"/><stop offset="1" stop-color="#ff0000"/></linearGradient><linearGradient id="g18" gradientUnits="userSpaceOnUse" x1="378" y1="0" x2="400" y2="0"><stop offset="0" stop-color="#0080ff"/><stop offset="1" stop-color="#ff0000"/></linearGradient><linearGradient id="g19" gradientUnits="userSpaceOnUse" x1="378" y1="0" x2="400" y2="0"><stop offset="0" stop-color="#0080ff"/><stop offset="1" stop-color="#ff0000"/></linearGradient><linearGradient id="g20" gradientUnits="userSpaceOnUse" x1="378" y1="0" x2="400" y2="0"><stop offset="0" stop-color="#0080ff"/><stop offset="1" stop-color="#ff0000"/></linearGradient><linearGradient id="g21" gradientUnits="userSpaceOnUse" x1="378" y1="0" x2="400" y2="0"><stop offset="0" stop-color="#0080ff"/><stop offset="1" stop-color="#ff0000"/></linearGradient><linearGradient id="g22" gradientUnits="userSpaceOnUse" x1="378" y1="0" x2="400" y2="0"><stop offset="0" stop-color="#0080ff"/><stop offset="1" stop-color="#ff0000"/></linearGradient><linearGradient id="g23" gradientUnits="userSpaceOnUse" x1="378" y1="0" x2="400" y2="0"><stop offset="0" stop-color="#0080ff"/><stop offset="1" stop-color="#ff0000"/></linearGradient><linearGradient id="g24" gradientUnits="userSpaceOnUse" x1="378" y1="0" x2="400" y2="0"><stop offset="0" stop-color="#0080ff"/><stop offset="1" stop-color="#ff0000"/></linearGradient><linearGradient id="g25" gradientUnits="userSpaceOnUse" x1="378" y1="0" x2="400" y2="0"><stop offset="0" stop-color="#0080ff"/><stop offset="1" stop-color="#ff0000"/></linearGradient><linearGradient id="g26" gradientUnits="userSpaceOnUse" x1="378" y1="0" x2="400" y2="0"><stop offset="0" stop-color="#0080ff"/><stop offset="1" stop-color="#ff0000"/></linearGradient><linearGradient id="g27" gradientUnits="userSpaceOnUse" x1="378" y1="0" x2="400" y2="0"><stop offset="0" stop-color="#0080ff"/><stop offset="1" stop-color="#ff0000"/></linearGradient><linearGradient id="g28" gradientUnits="userSpaceOnUse" x1="378" y1="0" x2="400" y2="0"><stop offset="0" stop-color="#0080ff"/><stop offset="1" stop-color="#ff0000"/></linearGradient><linearGradient id="g29" gradientUnits="userSpaceOnUse" x1="378" y1="0" x2="400" y2="0"><stop offset="0" stop-color="#0080ff"/><stop offset="1" stop-color="#ff0000"/></linearGradient><linearGradient id="g30" gradientUnits="userSpaceOnUse" x1="378" y1="0" x2="400" y2="0"><stop offset="0" stop-color="#0080ff"/><stop offset="1" stop-color="#ff0000"/></linearGradient><linearGradient id="g31" gradientUnits="userSpaceOnUse" x1="378" y1="0" x2="400" y2="0"><stop offset="0" stop-color="#0080ff"/><stop offset="1" stop-color="#ff0000"/></linearGradient><linearGradient id="g32" gradientUnits="userSpaceOnUse" x1="378" y1="0" x2="400" y2="0"><stop offset="0" stop-color="#0080ff"/><stop offset="1" stop-color="#ff0000"/></linearGradient><linearGradient id="g33" gradientUnits="userSpaceOnUse" x1="378" y1="0" x2="400" y2="0"><stop offset="0" stop-color="#0080ff"/><stop offset="1" stop-color="#ff0000"/></linearGradient><linearGradient id="g34" gradientUnits="userSpaceOnUse" x1="378" y1="0" x2="400" y2="0"><stop offset="0" stop-color="#0080ff"/><stop offset="1" stop-color="#ff0000"/></linearGradient><linearGradient id="g35" gradientUnits="userSpaceOnUse" x1="378" y1="0" x2="400" y2="0"><stop offset="0" stop-color="#0080ff"/><stop offset="1" stop-color="#ff0000"/></linearGradient><linearGradient id="g36" gradientUnits="userSpaceOnUse" x1="378" y1="0" x2="400" y2="0"><stop offset="0" stop-color="#0080ff"/><stop offset="1" stop-color="#ff0000"/></linearGradient><linearGradient id="g37" gradientUnits="userSpaceOnUse" x1="378" y1="0" x2="400" y2="0"><stop offset="0" stop-color="#0080ff"/><stop offset="1" stop-color="#ff0000"/></linearGradient><linearGradient id="g38" gradientUnits="userSpaceOnUse" x1="378" y1="0" x2="400" y2="0"><stop offset="0" stop-color="#0080ff"/><stop offset="1" stop-color="#ff0000"/></linearGradient><linearGradient id="g39" gradientUnits="userSpaceOnUse" x1="378" y1="0" x2="400" y2="0"><stop offset="0" stop-color="#0080ff"/><stop offset="1" stop-color="#ff0000"/></linearGradient><linearGradient id="g40" gradientUnits="userSpaceOnUse" x1="378" y1="0" x2="400" y2="0"><stop offset="0" stop-color="#0080ff"/><stop offset="1" stop-color="#ff0000"/></linearGradient><linearGradient id="g41" gradientUnits="userSpaceOnUse" x1="378" y1="0" x2="400" y2="0"><stop offset="0" stop-color="#0080ff"/><stop offset="1" stop-color="#ff0000"/></linearGradient><linearGradient id="g42" gradientUnits="userSpaceOnUse" x1="378" y1="0" x2="400" y2="0"><stop offset="0" stop-color="#0080ff"/><stop offset="1" stop-color="#ff0000"/></linearGradient><linearGradient id="g43" gradientUnits="userSpaceOnUse" x1="378" y1="0" x2="400" y2="0"><stop offset="0" stop-color="#0080ff"/><stop offset="1" stop-color="#ff0000"/></linearGradient><linearGradient id="g44" gradientUnits="userSpaceOnUse" x1="378" y1="0" x2="400" y2="0"><stop offset="0" stop-color="#0080ff"/><stop offset="1" stop-color="#ff0000"/></linearGradient><linearGradient id="g45" gradientUnits="userSpaceOnUse" x1="378" y1="0" x2="400" y2="0"><stop offset="0" stop-color="#0080ff"/><stop offset="1" stop-color="#ff0000"/></linearGradient><linearGradient id="g46" gradientUnits="userSpaceOnUse" x1="378" y1="0" x2="400" y2="0"><stop offset="0" stop-color="#0080ff"/><stop offset="1" stop-color="#ff0000"/></linearGradient><linearGradient id="g47" gradientUnits="userSpaceOnUse" x1="378" y1="0" x2="400" y2="0"><stop offset="0" stop-color="#0080ff"/><stop offset="1" stop-color="#ff0000"/></linearGradient><linearGradient id="g48" gradientUnits="userSpaceOnUse" x1="378" y1="0" x2="400" y2="0"><stop offset="0" stop-color="#0080ff"/><stop offset="1" stop-color="#ff0000"/></linearGradient><linearGradient id="g49" gradientUnits="userSpaceOnUse" x1="378" y1="0" x2="400" y2="0"><stop offset="0" stop-color="#0080ff"/><stop offset="1" stop-color="#ff0000"/></linearGradient><linearGradient id="g50" gradientUnits="userSpaceOnUse" x1="378" y1="0" x2="400" y2="0"><stop offset="0" stop-color="#0080ff"/><stop offset="1" stop-color="#ff0000"/></linearGradient><linearGradient id="g51" gradientUnits="userSpaceOnUse" x1="378" y1="0" x2="400" y2="0"><stop offset="0" stop-color="#0080ff"/><stop offset="1" stop-color="#ff0000"/></linearGradient><linearGradient id="g52" gradientUnits="userSpaceOnUse" x1="378" y1="0" x2="400" y2="0"><stop offset="0" stop-color="#0080ff"/><stop offset="1" stop-color="#ff0000"/></linearGradient><linearGradient id="g53" gradientUnits="userSpaceOnUse" x1="378" y1="0" x2="400" y2="0"><stop offset="0" stop-color="#0080ff"/><stop offset="1" stop-color="#ff0000"/></linearGradient><linearGradient id="g54" gradientUnits="userSpaceOnUse" x1="378" y1="0" x2="400" y2="0"><stop offset="0" stop-color="#0080ff"/><stop offset="1" stop-color="#ff0000"/></linearGradient><linearGradient id="g55" gradientUnits="userSpaceOnUse" x1="378" y1="0" x2="400" y2="0"><stop offset="0" stop-color="#0080ff"/><stop offset="1" stop-color="#ff0000"/></linearGradient><linearGradient id="g56" gradientUnits="userSpaceOnUse" x1="378" y1="0" x2="400" y2="0"><stop offset="0" stop-color="#0080ff"/><stop offset="1" stop-color="#ff0000"/></linearGradient><linearGradient id="g57" gradientUnits="userSpaceOnUse" x1="378" y1="0" x2="400" y2="0"><stop offset="0" stop-color="#0080ff"/><stop offset="1" stop-color="#ff0000"/></linearGradient><linearGradient id="g58" gradientUnits="userSpaceOnUse" x1="378" y1="0" x2="400" y2="0"><stop offset="0" stop-color="#0080ff"/><stop offset="1" stop-color="#ff0000"/></linearGradient><linearGradient id="g59" gradientUnits="userSpaceOnUse" x1="378" y1="0" x2="400" y2="0"><stop offset="0" stop-color="#0080ff"/><stop offset="1" stop-color="#ff0000"/></linearGradient><linearGradient id="g60" gradientUnits="userSpaceOnUse" x1="378" y1="0" x2="400" y2="0"><stop offset="0" stop-color="#0080ff"/><stop offset="1" stop-color="#ff0000"/></linearGradient><linearGradient id="g61" gradientUnits="userSpaceOnUse" x1="378" y1="0" x2="400" y2="0"><stop offset="0" stop-color="#0080ff"/><stop offset="1" stop-color="#ff0000"/></linearGradient><linearGradient id="g62" gradientUnits="userSpaceOnUse" x1="378" y1="0" x2="400" y2="0"><stop offset="0" stop-color="#0080ff"/><stop offset="1" stop-color="#ff0000"/></linearGradient><linearGradient id="g63" gradientUnits="userSpaceOnUse" x1="378" y1="0" x2="400" y2="0"><stop offset="0" stop-color="#0080ff"/><stop offset="1" stop-color="#ff0000"/></linearGradient><linearGradient id="g64" gradientUnits="userSpaceOnUse" x1="378" y1="0" x2="400" y2="0"><stop offset="0" stop-color="#0080ff"/><stop offset="1" stop-color="#ff0000"/></linearGradient><linearGradient id="g65" gradientUnits="userSpaceOnUse" x1="378" y1="0" x2="400" y2="0"><stop offset="0" stop-color="#0080ff"/><stop offset="1" stop-color="#ff0000"/></linearGradient><linearGradient id="g66" gradientUnits="userSpaceOnUse" x1="378" y1="0" x2="400" y2="0"><stop offset="0" stop-color="#0080ff"/><stop offset="1" stop-color="#ff0000"/></linearGradient><linearGradient id="g67" gradientUnits="userSpaceOnUse" x1="378" y1="0" x2="400" y2="0"><stop offset="0" stop-color="#0080ff"/><stop offset="1" stop-color="#ff0000"/></linearGradient><linearGradient id="g68" gradientUnits="userSpaceOnUse" x1="378" y1="0" x2="400" y2="0"><stop offset="0" stop-color="#0080ff"/><stop offset="1" stop-color="#ff0000"/></linearGradient><linearGradient id="g69" gradientUnits="userSpaceOnUse" x1="378" y1="0" x2="400" y2="0"><stop offset="0" stop-color="#0080ff"/><stop offset="1" stop-color="#ff0000"/></linearGradient><linearGradient id="g70" gradientUnits="userSpaceOnUse" x1="378" y1="0" x2="400" y2="0"><stop offset="0" stop-color="#0080ff"/><stop offset="1" stop-color="#ff0000"/></linearGradient><linearGradient id="g71" gradientUnits="userSpaceOnUse" x1="378" y1="0" x2="400" y2="0"><stop offset="0" stop-color="#0080ff"/><stop offset="1" stop-color="#ff0000"/></linearGradient><linearGradient id="g72" gradientUnits="userSpaceOnUse" x1="378" y1="0" x2="400" y2="0"><stop offset="0" stop-color="#0080ff"/><stop offset="1" stop-color="#ff0000"/></linearGradient><linearGradient id="g73" gradientUnits="userSpaceOnUse" x1="378" y1="0" x2="400" y2="0"><stop offset="0" stop-color="#0080ff"/><stop offset="1" stop-color="#ff0000"/></linearGradient><linearGradient id="g74" gradientUnits="userSpaceOnUse" x1="378" y1="0" x2="400" y2="0"><stop offset="0" stop-color="#0080ff"/><stop offset="1" stop-color="#ff0000"/></linearGradient><linearGradient id="g75" gradientUnits="userSpaceOnUse" x1="378" y1="0" x2="400" y2="0"><stop offset="0" stop-color="#0080ff"/><stop offset="1" stop-color="#ff0000"/></linearGradient><linearGradient id="g76" gradientUnits="userSpaceOnUse" x1="378" y1="0" x2="400" y2="0"><stop offset="0" stop-color="#0080ff"/><stop offset="1" stop-color="#ff0000"/></linearGradient><linearGradient id="g77" gradientUnits="userSpaceOnUse" x1="378" y1="0" x2="400" y2="0"><stop offset="0" stop-color="#0080ff"/><stop offset="1" stop-color="#ff0000"/></linearGradient><linearGradient id="g78" gradientUnits="userSpaceOnUse" x1="378" y1="0" x2="400" y2="0"><stop offset="0" stop-color="#0080ff"/><stop offset="1" stop-color="#ff0000"/></linearGradient><linearGradient id="g79" gradientUnits="userSpaceOnUse" x1="378.22" y1="0" x2="399.78" y2="0"><stop offset="0" stop-color="#0080ff"/><stop offset="1" stop-color="#ff0000"/></linearGradient><linearGradient id="g80" gradientUnits="userSpaceOnUse" x1="378.67" y1="0" x2="399.33" y2="0"><stop offset="0" stop-color="#0080ff"/><stop offset="1" stop-color="#ff0000"/></linearGradient><linearGradient id="g81" gradientUnits="userSpaceOnUse" x1="379.12" y1="0" x2="398.88" y2="0"><stop offset="0" stop-color="#0080ff"/><stop offset="1" stop-color="#ff0000"/></linearGradient><linearGradient id="g82" gradientUnits="userSpaceOnUse" x1="379.57" y1="0" x2="398.43" y2="0"><stop offset="0" stop-color="#0080ff"/><stop offset="1" stop-color="#ff0000"/></linearGradient><linearGradient id="g83" gradientUnits="userSpaceOnUse" x1="380.02" y1="0" x2="397.98" y2="0"><stop offset="0" stop-color="#0080ff"/><stop offset="1" stop-color="#ff0000"/></linearGradient><linearGradient id="g84" gradientUnits="userSpaceOnUse" x1="380.47" y1="0" x2="397.53" y2="0"><stop offset="0" stop-color="#0080ff"/><stop offset="1" stop-color="#ff0000"/></linearGradient><linearGradient id="g85" gradientUnits="userSpaceOnUse" x1="380.92" y1="0" x2="397.08" y2="0"><stop offset="0" stop-color="#0080ff"/><stop offset="1" stop-color="#ff0000"/></linearGradient><linearGradient id="g86" gradientUnits="userSpaceOnUse" x1="381.37" y1="0" x2="396.63" y2="0"><stop offset="0" stop-color="#0080ff"/><stop offset="1" stop-color="#ff0000"/></linearGradient><linearGradient id="g87" gradientUnits="userSpaceOnUse" x1="381.82" y1="0" x2="396.18" y2="0"><stop offset="0" stop-color="#0080ff"/><stop offset="1" stop-color="#ff0000"/></linearGradient><linearGradient id="g88" gradientUnits="userSpaceOnUse" x1="382.27" y1="0" x2="395.73" y2="0"><stop offset="0" stop-color="#0080ff"/><stop offset="1" stop-color="#ff0000"/></linearGradient><linearGradient id="g89" gradientUnits="userSpaceOnUse" x1="382.72" y1="0" x2="395.28" y2="0"><stop offset="0" stop-color="#0080ff"/><stop offset="1" stop-color="#ff0000"/></linearGradient><linearGradient id="g90" gradientUnits="userSpaceOnUse" x1="383.17" y1="0" x2="394.83" y2="0"><stop offset="0" stop-color="#0080ff"/><stop offset="1" stop-color="#ff0000"/></linearGradient><linearGradient id="g91" gradientUnits="userSpaceOnUse" x1="383.62" y1="0" x2="394.38" y2="0"><stop offset="0" stop-color="#0080ff"/><stop offset="1" stop-color="#ff0000"/></linearGradient><linearGradient id="g92" gradientUnits="userSpaceOnUse" x1="384.07" y1="0" x2="393.93" y2="0"><stop offset="0" stop-color="#0080ff"/><stop offset="1" stop-color="#ff0000"/></linearGradient><linearGradient id="g93" gradientUnits="userSpaceOnUse" x1="384.52" y1="0" x2="393.48" y2="0"><stop offset="0" stop-color="#0080ff"/><stop offset="1" stop-color="#ff0000"/></linearGradient><linearGradient id="g94" gradientUnits="userSpaceOnUse" x1="384.97" y1="0" x2="393.03" y2="0"><stop offset="0" stop-color="#0080ff"/><stop offset="1" stop-color="#ff0000"/></linearGradient><linearGradient id="g95" gradientUnits="userSpaceOnUse" x1="385.42" y1="0" x2="392.58" y2="0"><stop offset="0" stop-color="#0080ff"/><stop offset="1" stop-color="#ff0000"/></linearGradient><linearGradient id="g96" gradientUnits="userSpaceOnUse" x1="385.87" y1="0" x2="392.13" y2="0"><stop offset="0" stop-color="#0080ff"/><stop offset="1" stop-color="#ff0000"/></linearGradient><linearGradient id="g97" gradientUnits="userSpaceOnUse" x1="386.31" y1="0" x2="391.69" y2="0"><stop offset="0" stop-color="#0080ff"/><stop offset="1" stop-color="#ff0000"/></linearGradient><linearGradient id="g98" gradientUnits="userSpaceOnUse" x1="386.76" y1="0" x2="391.24" y2="0"><stop offset="0" stop-color="#0080ff"/><stop offset="1" stop-color="#ff0000"/></linearGradient><linearGradient id="g99" gradientUnits="userSpaceOnUse" x1="387.21" y1="0" x2="390.79" y2="0"><stop offset="0" stop-color="#0080ff"/><stop offset="1" stop-color="#ff0000"/></linearGradient><linearGradient id="g100" gradientUnits="userSpaceOnUse" x1="387.66" y1="0" x2="390.34" y2="0"><stop offset="0" stop-color="#0080ff"/><stop offset="1" stop-color="#ff0000"/></linearGradient><linearGradient id="g101" gradientUnits="userSpaceOnUse" x1="387.94" y1="0" x2="390.06" y2="0"><stop offset="0" stop-color="#0080ff"/><stop offset="1" stop-color="#ff0000"/></linearGradient></defs>
<path d="M511.6,16 H626 V117 L596.4,118.5 L511.6,122.3z" fill="#80ff80"/>
<path d="M511.6,122.3 L596.4,118.5 L626,117 V220 H511.6z" fill="#00ff00"/>
<path d="M511.6,220V122.3L596.4,118.5L626,117" fill="none" stroke="#111" stroke-width="1"/>
<path d="M382,166.6 L389.5,170.7 L389,219 M386,180 L389.5,175.2 L407,177.1" fill="none" stroke="#2a1030" stroke-width="1.2" stroke-dasharray="3.2,2.2"/>
<path d="M407,177.1 C440,180 480,192 510,218" fill="none" stroke="#5a0000" stroke-width="1.2" stroke-dasharray="3.5,2.5"/>
<path d="M285,108.5 L382,166.6 M285,151 L386,180.3" stroke="#0a1840" stroke-width="1"/>
<path d="M286,105.5L289,109.5L286,113.5L283,109.5z" fill="#3cecec" stroke="#0a3a5a" stroke-width="0.8"/>
<path d="M317.9,127.5L320.9,131.5L317.9,135.5L314.9,131.5z" fill="#3cecec" stroke="#0a3a5a" stroke-width="0.8"/>
<path d="M340.4,138.1L343.4,142.1L340.4,146.1L337.4,142.1z" fill="#3cecec" stroke="#0a3a5a" stroke-width="0.8"/>
<path d="M354,146.3L357,150.3L354,154.3L351,150.3z" fill="#3cecec" stroke="#0a3a5a" stroke-width="0.8"/>
<path d="M360.9,150L363.9,154L360.9,158L357.9,154z" fill="#3cecec" stroke="#0a3a5a" stroke-width="0.8"/>
<path d="M367.6,152.7L370.6,156.7L367.6,160.7L364.6,156.7z" fill="#3cecec" stroke="#0a3a5a" stroke-width="0.8"/>
<circle cx="286" cy="150" r="3.0" fill="#3cecec" stroke="#0a3a5a" stroke-width="0.8"/>
<circle cx="317.9" cy="162" r="3.0" fill="#3cecec" stroke="#0a3a5a" stroke-width="0.8"/>
<circle cx="340.4" cy="168.7" r="3.0" fill="#3cecec" stroke="#0a3a5a" stroke-width="0.8"/>
<circle cx="354" cy="171.4" r="3.0" fill="#3cecec" stroke="#0a3a5a" stroke-width="0.8"/>
<circle cx="361.3" cy="174.3" r="3.0" fill="#3cecec" stroke="#0a3a5a" stroke-width="0.8"/>
<circle cx="367.6" cy="174.9" r="3.0" fill="#3cecec" stroke="#0a3a5a" stroke-width="0.8"/>
<circle cx="375.5" cy="177.6" r="3.0" fill="#3cecec" stroke="#0a3a5a" stroke-width="0.8"/>
<circle cx="407.4" cy="177.1" r="3.0" fill="#3cecec" stroke="#0a3a5a" stroke-width="0.8"/>
<path d="M406.6,196.3 L407.64,199.07 L410.59,199.2 L408.28,201.05 L409.07,203.9 L406.6,202.26 L404.13,203.9 L404.92,201.05 L402.61,199.2 L405.56,199.07z" fill="#ffff40" stroke="#4a3a00" stroke-width="0.8"/>
<text x="316.9" y="122.7" font-size="16.5" fill="#001040" textLength="22.8" lengthAdjust="spacingAndGlyphs">BT</text>
<text x="297.5" y="152" font-size="17.5" font-family="Liberation Serif" fill="#001040">Δ</text>
<text x="306.6" y="214.6" font-size="18.3" fill="#001848" textLength="50.5" lengthAdjust="spacingAndGlyphs">Dimer</text>
<text x="406" y="169" font-size="17.5" font-family="Liberation Serif" fill="#500000">Δ</text>
<text x="407" y="195.7" font-size="16" fill="#500000" textLength="22.2" lengthAdjust="spacingAndGlyphs">LE</text>
<text x="413.8" y="214.4" font-size="17.5" fill="#500000" textLength="77" lengthAdjust="spacingAndGlyphs">Plaquette</text>
<text x="511" y="213.6" font-size="17.5" fill="#003000" textLength="39" lengthAdjust="spacingAndGlyphs">AFM</text>
<text x="562" y="213.6" font-size="17.5" fill="#003000" textLength="39.5" lengthAdjust="spacingAndGlyphs">AFM</text>
<text x="608.5" y="102" font-size="19">C</text><text x="616.5" y="110.5" font-size="14">2</text>
<text x="605.6" y="132" font-size="15.8">P</text><text x="613.2" y="140.2" font-size="13.5">2</text>
<path d="M531.8,135H561.8" stroke="#80f080" stroke-width="0.8"/>
<path d="M517.4,170H547.4" stroke="#80f080" stroke-width="0.8"/>
<path d="M529.2,186.5H559.2" stroke="#80f080" stroke-width="0.8"/>
<path d="M542.2,17.5 L531.2,55 L529.1,71.1 L524.9,89.3 L521.9,104.1 L547.8,120.5 L544.8,135.2 L533.6,153 L533.4,170 L545.2,186.5 L550,195 L552.8,217" stroke="#9a4cbc" stroke-width="1.2" fill="none"/>
<rect x="529.5" y="53.3" width="3.4" height="3.4" fill="#9a4cbc" stroke="#6a2a8a" stroke-width="0.4"/>
<rect x="527.4" y="69.4" width="3.4" height="3.4" fill="#9a4cbc" stroke="#6a2a8a" stroke-width="0.4"/>
<rect x="523.2" y="87.6" width="3.4" height="3.4" fill="#9a4cbc" stroke="#6a2a8a" stroke-width="0.4"/>
<rect x="520.2" y="102.4" width="3.4" height="3.4" fill="#9a4cbc" stroke="#6a2a8a" stroke-width="0.4"/>
<rect x="546.1" y="118.8" width="3.4" height="3.4" fill="#9a4cbc" stroke="#6a2a8a" stroke-width="0.4"/>
<rect x="543.1" y="133.5" width="3.4" height="3.4" fill="#9a4cbc" stroke="#6a2a8a" stroke-width="0.4"/>
<rect x="531.9" y="151.3" width="3.4" height="3.4" fill="#9a4cbc" stroke="#6a2a8a" stroke-width="0.4"/>
<rect x="531.7" y="168.3" width="3.4" height="3.4" fill="#9a4cbc" stroke="#6a2a8a" stroke-width="0.4"/>
<rect x="543.5" y="184.8" width="3.4" height="3.4" fill="#9a4cbc" stroke="#6a2a8a" stroke-width="0.4"/>
<rect x="548.3" y="193.3" width="3.4" height="3.4" fill="#9a4cbc" stroke="#6a2a8a" stroke-width="0.4"/>
<rect x="543.8" y="135.8" width="3.4" height="3.4" fill="#9a4cbc" stroke="#6a2a8a" stroke-width="0.4"/>
<text transform="translate(525.2,64) rotate(-79)" font-size="8" font-style="italic" text-anchor="middle" fill="#222">Tetragonal</text>
<text transform="translate(533.2,90) rotate(-79)" font-size="8" font-style="italic" text-anchor="middle" fill="#222">Monoclinic</text>
<rect x="508.9" y="119.6" width="5.4" height="5.4" fill="#30d030" stroke="#111" stroke-width="0.9"/>
<rect x="593.7" y="115.8" width="5.4" height="5.4" fill="#30d030" stroke="#111" stroke-width="0.9"/>
<rect x="300.9" y="37.8" width="69.8" height="69.6" fill="#fff" stroke="#c8c8c8" stroke-width="0.6"/>
<path d="M307.7,44.4H363.9M307.7,58.45H363.9M307.7,72.5H363.9M307.7,86.55H363.9M307.7,100.6H363.9M307.7,44.4V100.6M321.75,44.4V100.6M335.8,44.4V100.6M349.85,44.4V100.6M363.9,44.4V100.6" stroke="#ec8878" stroke-width="1.1" fill="none"/>
<ellipse cx="314.73" cy="51.42" rx="13" ry="3.5" transform="rotate(45 314.73 51.42)" fill="#8585f2" stroke="#24246e" stroke-width="0.8"/>
<path d="M307.7,44.4L321.75,58.45" stroke="#3434b0" stroke-width="0.8"/>
<ellipse cx="342.83" cy="51.42" rx="13" ry="3.5" transform="rotate(45 342.83 51.42)" fill="#8585f2" stroke="#24246e" stroke-width="0.8"/>
<path d="M335.8,44.4L349.85,58.45" stroke="#3434b0" stroke-width="0.8"/>
<ellipse cx="328.77" cy="65.47" rx="13" ry="3.5" transform="rotate(-45 328.77 65.47)" fill="#8585f2" stroke="#24246e" stroke-width="0.8"/>
<path d="M321.75,72.5L335.8,58.45" stroke="#3434b0" stroke-width="0.8"/>
<ellipse cx="356.88" cy="65.47" rx="13" ry="3.5" transform="rotate(-45 356.88 65.47)" fill="#8585f2" stroke="#24246e" stroke-width="0.8"/>
<path d="M349.85,72.5L363.9,58.45" stroke="#3434b0" stroke-width="0.8"/>
<ellipse cx="314.73" cy="79.53" rx="13" ry="3.5" transform="rotate(45 314.73 79.53)" fill="#8585f2" stroke="#24246e" stroke-width="0.8"/>
<path d="M307.7,72.5L321.75,86.55" stroke="#3434b0" stroke-width="0.8"/>
<ellipse cx="342.83" cy="79.53" rx="13" ry="3.5" transform="rotate(45 342.83 79.53)" fill="#8585f2" stroke="#24246e" stroke-width="0.8"/>
<path d="M335.8,72.5L349.85,86.55" stroke="#3434b0" stroke-width="0.8"/>
<ellipse cx="328.77" cy="93.58" rx="13" ry="3.5" transform="rotate(-45 328.77 93.58)" fill="#8585f2" stroke="#24246e" stroke-width="0.8"/>
<path d="M321.75,100.6L335.8,86.55" stroke="#3434b0" stroke-width="0.8"/>
<ellipse cx="356.88" cy="93.58" rx="13" ry="3.5" transform="rotate(-45 356.88 93.58)" fill="#8585f2" stroke="#24246e" stroke-width="0.8"/>
<path d="M349.85,100.6L363.9,86.55" stroke="#3434b0" stroke-width="0.8"/>
<circle cx="307.7" cy="44.4" r="1.9" fill="#000"/>
<circle cx="321.75" cy="44.4" r="1.9" fill="#000"/>
<circle cx="335.8" cy="44.4" r="1.9" fill="#000"/>
<circle cx="349.85" cy="44.4" r="1.9" fill="#000"/>
<circle cx="363.9" cy="44.4" r="1.9" fill="#000"/>
<circle cx="307.7" cy="58.45" r="1.9" fill="#000"/>
<circle cx="321.75" cy="58.45" r="1.9" fill="#000"/>
<circle cx="335.8" cy="58.45" r="1.9" fill="#000"/>
<circle cx="349.85" cy="58.45" r="1.9" fill="#000"/>
<circle cx="363.9" cy="58.45" r="1.9" fill="#000"/>
<circle cx="307.7" cy="72.5" r="1.9" fill="#000"/>
<circle cx="321.75" cy="72.5" r="1.9" fill="#000"/>
<circle cx="335.8" cy="72.5" r="1.9" fill="#000"/>
<circle cx="349.85" cy="72.5" r="1.9" fill="#000"/>
<circle cx="363.9" cy="72.5" r="1.9" fill="#000"/>
<circle cx="307.7" cy="86.55" r="1.9" fill="#000"/>
<circle cx="321.75" cy="86.55" r="1.9" fill="#000"/>
<circle cx="335.8" cy="86.55" r="1.9" fill="#000"/>
<circle cx="349.85" cy="86.55" r="1.9" fill="#000"/>
<circle cx="363.9" cy="86.55" r="1.9" fill="#000"/>
<circle cx="307.7" cy="100.6" r="1.9" fill="#000"/>
<circle cx="321.75" cy="100.6" r="1.9" fill="#000"/>
<circle cx="335.8" cy="100.6" r="1.9" fill="#000"/>
<circle cx="349.85" cy="100.6" r="1.9" fill="#000"/>
<circle cx="363.9" cy="100.6" r="1.9" fill="#000"/>
<rect x="421" y="37.8" width="69.8" height="69.6" fill="#fff" stroke="#c8c8c8" stroke-width="0.6"/>
<path d="M427.8,44.4H484M427.8,58.45H484M427.8,72.5H484M427.8,86.55H484M427.8,100.6H484M427.8,44.4V100.6M441.85,44.4V100.6M455.9,44.4V100.6M469.95,44.4V100.6M484,44.4V100.6" stroke="#f09a8a" stroke-width="1.1" fill="none"/>
<rect x="425.2" y="41.8" width="19.25" height="19.25" rx="2.6" fill="#f3b3f3" stroke="#6464b4" stroke-width="0.9"/>
<path d="M427.8,44.4H441.85V58.45H427.8z" stroke="#c060b0" stroke-width="0.9" fill="none"/>
<rect x="453.3" y="41.8" width="19.25" height="19.25" rx="2.6" fill="#f3b3f3" stroke="#6464b4" stroke-width="0.9"/>
<path d="M455.9,44.4H469.95V58.45H455.9z" stroke="#c060b0" stroke-width="0.9" fill="none"/>
<rect x="425.2" y="69.9" width="19.25" height="19.25" rx="2.6" fill="#f3b3f3" stroke="#6464b4" stroke-width="0.9"/>
<path d="M427.8,72.5H441.85V86.55H427.8z" stroke="#c060b0" stroke-width="0.9" fill="none"/>
<rect x="453.3" y="69.9" width="19.25" height="19.25" rx="2.6" fill="#f3b3f3" stroke="#6464b4" stroke-width="0.9"/>
<path d="M455.9,72.5H469.95V86.55H455.9z" stroke="#c060b0" stroke-width="0.9" fill="none"/>
<path d="M427.8,44.4L441.85,58.45" stroke="#2a2a9a" stroke-width="0.9"/>
<path d="M455.9,44.4L469.95,58.45" stroke="#2a2a9a" stroke-width="0.9"/>
<path d="M441.85,72.5L455.9,58.45" stroke="#2a2a9a" stroke-width="0.9"/>
<path d="M469.95,72.5L484,58.45" stroke="#2a2a9a" stroke-width="0.9"/>
<path d="M427.8,72.5L441.85,86.55" stroke="#2a2a9a" stroke-width="0.9"/>
<path d="M455.9,72.5L469.95,86.55" stroke="#2a2a9a" stroke-width="0.9"/>
<path d="M441.85,100.6L455.9,86.55" stroke="#2a2a9a" stroke-width="0.9"/>
<path d="M469.95,100.6L484,86.55" stroke="#2a2a9a" stroke-width="0.9"/>
<circle cx="427.8" cy="44.4" r="1.9" fill="#000"/>
<circle cx="441.85" cy="44.4" r="1.9" fill="#000"/>
<circle cx="455.9" cy="44.4" r="1.9" fill="#000"/>
<circle cx="469.95" cy="44.4" r="1.9" fill="#000"/>
<circle cx="484" cy="44.4" r="1.9" fill="#000"/>
<circle cx="427.8" cy="58.45" r="1.9" fill="#000"/>
<circle cx="441.85" cy="58.45" r="1.9" fill="#000"/>
<circle cx="455.9" cy="58.45" r="1.9" fill="#000"/>
<circle cx="469.95" cy="58.45" r="1.9" fill="#000"/>
<circle cx="484" cy="58.45" r="1.9" fill="#000"/>
<circle cx="427.8" cy="72.5" r="1.9" fill="#000"/>
<circle cx="441.85" cy="72.5" r="1.9" fill="#000"/>
<circle cx="455.9" cy="72.5" r="1.9" fill="#000"/>
<circle cx="469.95" cy="72.5" r="1.9" fill="#000"/>
<circle cx="484" cy="72.5" r="1.9" fill="#000"/>
<circle cx="427.8" cy="86.55" r="1.9" fill="#000"/>
<circle cx="441.85" cy="86.55" r="1.9" fill="#000"/>
<circle cx="455.9" cy="86.55" r="1.9" fill="#000"/>
<circle cx="469.95" cy="86.55" r="1.9" fill="#000"/>
<circle cx="484" cy="86.55" r="1.9" fill="#000"/>
<circle cx="427.8" cy="100.6" r="1.9" fill="#000"/>
<circle cx="441.85" cy="100.6" r="1.9" fill="#000"/>
<circle cx="455.9" cy="100.6" r="1.9" fill="#000"/>
<circle cx="469.95" cy="100.6" r="1.9" fill="#000"/>
<circle cx="484" cy="100.6" r="1.9" fill="#000"/>
<rect x="538.5" y="38.3" width="69.4" height="69.2" fill="#fff" stroke="#c8c8c8" stroke-width="0.6"/>
<path d="M545.3,44.9H601.1M545.3,58.85H601.1M545.3,72.8H601.1M545.3,86.75H601.1M545.3,100.7H601.1M545.3,44.9V100.7M559.25,44.9V100.7M573.2,44.9V100.7M587.15,44.9V100.7M601.1,44.9V100.7" stroke="#b05a5a" stroke-width="1.1" fill="none"/>
<path d="M545.3,44.9L559.25,58.85" stroke="#3a3ac0" stroke-width="0.9"/>
<path d="M573.2,44.9L587.15,58.85" stroke="#3a3ac0" stroke-width="0.9"/>
<path d="M559.25,72.8L573.2,58.85" stroke="#3a3ac0" stroke-width="0.9"/>
<path d="M587.15,72.8L601.1,58.85" stroke="#3a3ac0" stroke-width="0.9"/>
<path d="M545.3,72.8L559.25,86.75" stroke="#3a3ac0" stroke-width="0.9"/>
<path d="M573.2,72.8L587.15,86.75" stroke="#3a3ac0" stroke-width="0.9"/>
<path d="M559.25,100.7L573.2,86.75" stroke="#3a3ac0" stroke-width="0.9"/>
<path d="M587.15,100.7L601.1,86.75" stroke="#3a3ac0" stroke-width="0.9"/>
<path d="M542.6,41.1L548,48.7" stroke="#3ea23e" stroke-width="2.5"/>
<ellipse cx="544.8" cy="44.2" rx="2.6" ry="1.5" transform="rotate(54.6 544.8 44.2)" fill="#0e3e0e"/>
<path d="M556.55,41.1L561.95,48.7" stroke="#3ea23e" stroke-width="2.5"/>
<ellipse cx="558.75" cy="44.2" rx="2.6" ry="1.5" transform="rotate(54.6 558.75 44.2)" fill="#0e3e0e"/>
<path d="M570.5,41.1L575.9,48.7" stroke="#3ea23e" stroke-width="2.5"/>
<ellipse cx="572.7" cy="44.2" rx="2.6" ry="1.5" transform="rotate(54.6 572.7 44.2)" fill="#0e3e0e"/>
<path d="M584.45,41.1L589.85,48.7" stroke="#3ea23e" stroke-width="2.5"/>
<ellipse cx="586.65" cy="44.2" rx="2.6" ry="1.5" transform="rotate(54.6 586.65 44.2)" fill="#0e3e0e"/>
<path d="M598.4,41.1L603.8,48.7" stroke="#3ea23e" stroke-width="2.5"/>
<ellipse cx="600.6" cy="44.2" rx="2.6" ry="1.5" transform="rotate(54.6 600.6 44.2)" fill="#0e3e0e"/>
<path d="M542.6,55.05L548,62.65" stroke="#3ea23e" stroke-width="2.5"/>
<ellipse cx="544.8" cy="58.15" rx="2.6" ry="1.5" transform="rotate(54.6 544.8 58.15)" fill="#0e3e0e"/>
<path d="M556.55,55.05L561.95,62.65" stroke="#3ea23e" stroke-width="2.5"/>
<ellipse cx="558.75" cy="58.15" rx="2.6" ry="1.5" transform="rotate(54.6 558.75 58.15)" fill="#0e3e0e"/>
<path d="M570.5,55.05L575.9,62.65" stroke="#3ea23e" stroke-width="2.5"/>
<ellipse cx="572.7" cy="58.15" rx="2.6" ry="1.5" transform="rotate(54.6 572.7 58.15)" fill="#0e3e0e"/>
<path d="M584.45,55.05L589.85,62.65" stroke="#3ea23e" stroke-width="2.5"/>
<ellipse cx="586.65" cy="58.15" rx="2.6" ry="1.5" transform="rotate(54.6 586.65 58.15)" fill="#0e3e0e"/>
<path d="M598.4,55.05L603.8,62.65" stroke="#3ea23e" stroke-width="2.5"/>
<ellipse cx="600.6" cy="58.15" rx="2.6" ry="1.5" transform="rotate(54.6 600.6 58.15)" fill="#0e3e0e"/>
<path d="M542.6,69L548,76.6" stroke="#3ea23e" stroke-width="2.5"/>
<ellipse cx="544.8" cy="72.1" rx="2.6" ry="1.5" transform="rotate(54.6 544.8 72.1)" fill="#0e3e0e"/>
<path d="M556.55,69L561.95,76.6" stroke="#3ea23e" stroke-width="2.5"/>
<ellipse cx="558.75" cy="72.1" rx="2.6" ry="1.5" transform="rotate(54.6 558.75 72.1)" fill="#0e3e0e"/>
<path d="M570.5,69L575.9,76.6" stroke="#3ea23e" stroke-width="2.5"/>
<ellipse cx="572.7" cy="72.1" rx="2.6" ry="1.5" transform="rotate(54.6 572.7 72.1)" fill="#0e3e0e"/>
<path d="M584.45,69L589.85,76.6" stroke="#3ea23e" stroke-width="2.5"/>
<ellipse cx="586.65" cy="72.1" rx="2.6" ry="1.5" transform="rotate(54.6 586.65 72.1)" fill="#0e3e0e"/>
<path d="M598.4,69L603.8,76.6" stroke="#3ea23e" stroke-width="2.5"/>
<ellipse cx="600.6" cy="72.1" rx="2.6" ry="1.5" transform="rotate(54.6 600.6 72.1)" fill="#0e3e0e"/>
<path d="M542.6,82.95L548,90.55" stroke="#3ea23e" stroke-width="2.5"/>
<ellipse cx="544.8" cy="86.05" rx="2.6" ry="1.5" transform="rotate(54.6 544.8 86.05)" fill="#0e3e0e"/>
<path d="M556.55,82.95L561.95,90.55" stroke="#3ea23e" stroke-width="2.5"/>
<ellipse cx="558.75" cy="86.05" rx="2.6" ry="1.5" transform="rotate(54.6 558.75 86.05)" fill="#0e3e0e"/>
<path d="M570.5,82.95L575.9,90.55" stroke="#3ea23e" stroke-width="2.5"/>
<ellipse cx="572.7" cy="86.05" rx="2.6" ry="1.5" transform="rotate(54.6 572.7 86.05)" fill="#0e3e0e"/>
<path d="M584.45,82.95L589.85,90.55" stroke="#3ea23e" stroke-width="2.5"/>
<ellipse cx="586.65" cy="86.05" rx="2.6" ry="1.5" transform="rotate(54.6 586.65 86.05)" fill="#0e3e0e"/>
<path d="M598.4,82.95L603.8,90.55" stroke="#3ea23e" stroke-width="2.5"/>
<ellipse cx="600.6" cy="86.05" rx="2.6" ry="1.5" transform="rotate(54.6 600.6 86.05)" fill="#0e3e0e"/>
<path d="M542.6,96.9L548,104.5" stroke="#3ea23e" stroke-width="2.5"/>
<ellipse cx="544.8" cy="100" rx="2.6" ry="1.5" transform="rotate(54.6 544.8 100)" fill="#0e3e0e"/>
<path d="M556.55,96.9L561.95,104.5" stroke="#3ea23e" stroke-width="2.5"/>
<ellipse cx="558.75" cy="100" rx="2.6" ry="1.5" transform="rotate(54.6 558.75 100)" fill="#0e3e0e"/>
<path d="M570.5,96.9L575.9,104.5" stroke="#3ea23e" stroke-width="2.5"/>
<ellipse cx="572.7" cy="100" rx="2.6" ry="1.5" transform="rotate(54.6 572.7 100)" fill="#0e3e0e"/>
<path d="M584.45,96.9L589.85,104.5" stroke="#3ea23e" stroke-width="2.5"/>
<ellipse cx="586.65" cy="100" rx="2.6" ry="1.5" transform="rotate(54.6 586.65 100)" fill="#0e3e0e"/>
<path d="M598.4,96.9L603.8,104.5" stroke="#3ea23e" stroke-width="2.5"/>
<ellipse cx="600.6" cy="100" rx="2.6" ry="1.5" transform="rotate(54.6 600.6 100)" fill="#0e3e0e"/>
<rect x="297.8" y="22.3" width="73.2" height="14.2" fill="#fff"/>
<path d="M297.8,29.9H287.5M287.5,29.9l3,-1.3v2.6z" stroke="#102050" stroke-width="0.8" fill="#102050"/>
<path d="M302.5,26L305.5,30L302.5,34L299.5,30z" fill="#3cecec" stroke="#0a3a5a" stroke-width="0.8"/>
<circle cx="312.5" cy="30" r="3.3" fill="#3cecec" stroke="#0a3a5a" stroke-width="0.8"/>
<path d="M324.9,24.3 L326.21,27.8 L329.94,27.96 L327.02,30.29 L328.02,33.89 L324.9,31.83 L321.78,33.89 L322.78,30.29 L319.86,27.96 L323.59,27.8z" fill="#ffff40" stroke="#4a3a00" stroke-width="0.8"/>
<text x="334.5" y="32.4" font-size="7.3" fill="#333">Dynamics</text>
<rect x="556.2" y="22.5" width="56.2" height="13.8" fill="#fff"/>
<text x="571.5" y="32" font-size="7.5" fill="#333">Order</text>
<rect x="595.5" y="28" width="2.6" height="3.4" fill="#a030b0"/>
<rect x="605.7" y="27.7" width="4.8" height="4.8" fill="#30d030" stroke="#111" stroke-width="1"/>
<path d="M610.5,30.1H624.5M624.5,30.1l-3,-1.3v2.6z" stroke="#206020" stroke-width="0.8" fill="#206020"/>
<rect x="285" y="16.4" width="341.4" height="203.6" fill="none" stroke="#000" stroke-width="2.4"/>
<path d="M285.1,218.8V214.8M341.88,218.8V214.8M398.66,218.8V214.8M455.44,218.8V214.8M512.22,218.8V214.8M569,218.8V214.8M625.78,218.8V214.8M286.2,218.8H290M286.2,180.25H290M286.2,141.7H290M286.2,103.15H290M286.2,64.6H290M625.2,218.5H621.4M625.2,178.12H621.4M625.2,137.75H621.4M625.2,97.38H621.4M625.2,57H621.4" stroke="#0a1a3a" stroke-width="0.8" fill="none"/>
<text x="279.2" y="225.1" font-size="17.5" text-anchor="end">0</text>
<text x="279.2" y="186.55" font-size="17.5" text-anchor="end">20</text>
<text x="279.2" y="148" font-size="17.5" text-anchor="end">40</text>
<text x="279.2" y="109.45" font-size="17.5" text-anchor="end">60</text>
<text x="279.2" y="70.9" font-size="17.5" text-anchor="end">80</text>
<text x="631" y="224.8" font-size="17.5" letter-spacing="0.6">0</text>
<text x="631" y="184.43" font-size="17.5" letter-spacing="0.6">50</text>
<text x="631" y="144.05" font-size="17.5" letter-spacing="0.6">100</text>
<text x="631" y="103.67" font-size="17.5" letter-spacing="0.6">150</text>
<text x="631" y="63.3" font-size="17.5" letter-spacing="0.6">200</text>
<text x="285.4" y="238.9" font-size="17.5" text-anchor="middle" letter-spacing="0.6">0</text>
<text x="342.18" y="238.9" font-size="17.5" text-anchor="middle" letter-spacing="0.6">10</text>
<text x="398.96" y="238.9" font-size="17.5" text-anchor="middle" letter-spacing="0.6">20</text>
<text x="455.74" y="238.9" font-size="17.5" text-anchor="middle" letter-spacing="0.6">30</text>
<text x="512.52" y="238.9" font-size="17.5" text-anchor="middle" letter-spacing="0.6">40</text>
<text x="569.3" y="238.9" font-size="17.5" text-anchor="middle" letter-spacing="0.6">50</text>
<text x="626.08" y="238.9" font-size="17.5" text-anchor="middle" letter-spacing="0.6">60</text>
<text x="397.8" y="256.5" font-size="19"><tspan font-style="italic">Pressure</tspan> (kbar)</text>
<text transform="translate(246,115.6) rotate(-90)" font-size="18.3" text-anchor="middle"><tspan font-style="italic">Energy</tspan> (K)</text>
<text transform="translate(670.4,139.2) rotate(90)" font-size="18" text-anchor="middle"><tspan font-style="italic">T</tspan> (K)</text>
<text x="230.5" y="19.8" font-size="24" font-weight="bold">b</text>
</svg>
</body></html>
